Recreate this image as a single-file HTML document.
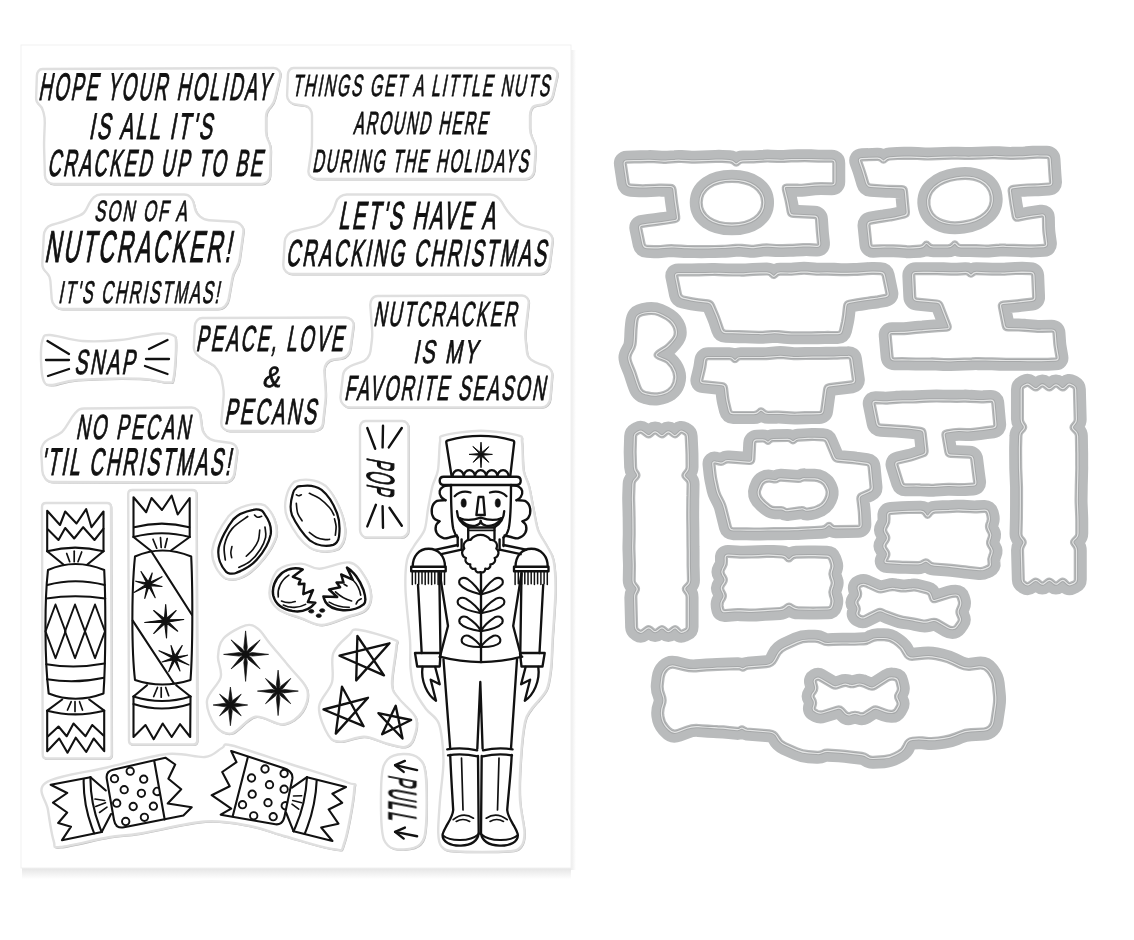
<!DOCTYPE html>
<html><head><meta charset="utf-8"><title>Nutcracker stamp &amp; die set</title>
<style>
html,body{margin:0;padding:0;background:#fff;}
body{width:1134px;height:940px;overflow:hidden;font-family:"Liberation Sans",sans-serif;}
svg{display:block}
text{font-family:"Liberation Sans",sans-serif;fill:#111;}
</style></head><body>
<svg width="1134" height="940" viewBox="0 0 1134 940">
<rect width="1134" height="940" fill="#fff"/>
<defs><linearGradient id="shb" x1="0" y1="0" x2="0" y2="1"><stop offset="0" stop-color="#e4e4e4"/><stop offset="1" stop-color="#fff"/></linearGradient><linearGradient id="shr" x1="0" y1="0" x2="1" y2="0"><stop offset="0" stop-color="#ececec"/><stop offset="1" stop-color="#fff"/></linearGradient><filter id="bl" x="-2%" y="-2%" width="104%" height="104%"><feGaussianBlur stdDeviation="0.7"/></filter></defs>
<rect x="22" y="868" width="549" height="11" fill="url(#shb)"/>
<rect x="571" y="50" width="5" height="820" fill="url(#shr)"/>
<rect x="21" y="45" width="550" height="823" fill="#fff" stroke="#f1f1f1" stroke-width="1"/>
<g filter="url(#bl)"><g fill="none" stroke="#b9b9b9" stroke-width="1.4" transform="translate(0.7,0.8)">
<path d="M38.5 71Q40 69 42.5 69L273.8 68Q277 68 279 70.5L279 70.5Q281 73 280.3 76.1L275.1 98.1Q274 103 270.7 106.7L269.3 108.3Q266 112 266 117L266 131Q266 136 268.2 140.5L268.8 141.5Q271 146 270.8 151L270.1 175.5Q270 179 267.5 181.5L267.5 181.5Q265 184 261.5 184L53.5 184Q50 184 47.5 181.5L47.5 181.5Q45 179 44.9 175.5L44.1 148Q44 143 44.2 138L44.8 123Q45 118 43.7 113.2L43 110.8Q42 107 39 104.5L39 104.5Q36 102 36.1 98.1L36.9 75.5Q37 73 38.5 71Z"/>
<path d="M289.5 70Q291 68 293.5 68L550.8 68Q554 68 556 70.5L556 70.5Q558 73 557.3 76.1L552.9 95.2Q552 99 549 101.5L549 101.5Q546 104 542.1 104.6L536.3 105.5Q533 106 531.5 109L531.5 109Q530 112 530 115.4L530 128Q530 133 532.1 137.5L533.9 141.5Q536 146 535.6 151L534.3 170.5Q534 174 531.5 176.5L531.5 176.5Q529 179 525.5 179L316.5 179Q313 179 310.5 176.5L310.5 176.5Q308 174 308.5 170.5L311.3 150.9Q312 146 312 141L312 115.6Q312 112 310 109L310 109Q308 106 304.4 105.6L295.5 104.4Q292 104 289.5 101.5L289.5 101.5Q287 99 287.1 95.5L287.9 74.5Q288 72 289.5 70Z"/>
<path d="M94 197.2Q97 194.5 101.1 194.5L184.3 194.5Q188 194.5 190.5 197.2L190.5 197.2Q193 200 193.8 203.6L194.9 208.1Q196 213 199.8 216.3L200.2 216.7Q204 220 209 220.3L233.8 221.8Q238 222 241 225L241 225Q244 228 243.4 232.2L239.7 259Q239 264 236.4 268.3L235.6 269.7Q233 274 232.2 278.9L228.7 298.8Q228 303 225 306L225 306Q222 309 217.8 309L62.2 309Q58 309 55 306L55 306Q52 303 51.7 298.8L50.4 281Q50 276 46.5 272.5L45.5 271.5Q42 268 42.3 263L43.8 235.6Q44 232 46 229L46 229Q48 226 51.5 225L57.2 223.4Q62 222 66.7 220.3L79.3 215.7Q84 214 86.2 209.5L89.2 203.6Q91 200 94 197.2Z"/>
<path d="M340 196.8Q343 194.5 346.8 194.5L490.2 194.5Q494 194.5 497 196.8L497 196.8Q500 199 501.9 202.2L504.5 206.7Q507 211 510.4 214.7L516.6 221.3Q520 225 524.9 226.2L545.5 231.2Q549 232 551 235L551 235Q553 238 552.5 241.6L549.5 265.5Q549 269 546.5 271.5L546.5 271.5Q544 274 540.5 274L291.9 274Q288 274 285.5 271L285.5 271Q283 268 283.3 264.1L284.7 241.9Q285 238 287.5 235L287.5 235Q290 232 293.8 231.1L316.1 226.1Q321 225 324.4 221.3L329.6 215.7Q333 212 334.5 207.2L335.9 202.6Q337 199 340 196.8Z"/>
<path d="M197 320.5Q199 318 202.2 318L345.6 317.5Q349 317.5 351.5 319.8L351.5 319.8Q354 322 353.6 325.3L350.5 348.1Q350 352 347.5 355L347.5 355Q345 358 341.1 358.5L333.3 359.5Q329 360 326.5 363.5L326.5 363.5Q324 367 324.3 371.3L325.6 390Q326 395 325.5 400L322.9 423.6Q322.5 427 319.8 429L319.8 429Q317 431 313.6 431L229.5 431Q226 431 223.5 428.5L223.5 428.5Q221 426 221.3 422.5L223.6 397Q224 392 223.1 387.1L221.9 379.9Q221 375 218.1 370.9L216.9 369.1Q214 365 209.5 362.8L204.3 360.1Q200 358 196.8 354.5L196.8 354.5Q193.5 351 193.8 346.2L194.8 326.2Q195 323 197 320.5Z"/>
<path d="M372 299Q374 296 377.6 296L522 295.5Q525 295.5 527 297.8L527 297.8Q529 300 528.7 303L525.6 330Q525 335 525.6 340L527 352.4Q527.5 357 531.2 359.8L531.2 359.8Q535 362.5 539.4 363.9L545.9 366Q549 367 550.8 369.8L550.8 369.8Q552.5 372.5 552.2 375.7L550.3 398.3Q550 402 547.5 404.8L547.5 404.8Q545 407.5 541.3 407.5L350.4 407.5Q346 407.5 343 404.2L343 404.2Q340 401 340.5 396.6L343 375.1Q343.5 371 346.8 368.5L346.8 368.5Q350 366 353.9 364.7L361.3 362.2Q365 361 367.5 358L367.5 358Q370 355 370.5 351.1L371.9 340Q372.5 335 372.1 330L370.3 305.6Q370 302 372 299Z"/>
<path d="M75.8 412.4Q79 408.5 84 408.5L191.6 407.5Q195 407.5 197.5 409.8L197.5 409.8Q200 412 200.4 415.3L201.9 427Q202.5 432 205.9 435.6L206.6 436.4Q210 440 214.9 440.7L230.8 443Q234 443.5 235.8 446.2L235.8 446.2Q237.5 449 237.1 452.2L234.5 473.1Q234 477 231.2 479.8L231.2 479.8Q228.5 482.5 224.6 482.5L52.5 482Q48 482 45.2 478.5L45.2 478.5Q42.5 475 42.3 470.6L41.2 452Q41 448 43 444.5L43 444.5Q45 441 48.6 439.2L58 434.7Q62.5 432.5 65.1 428.2L69.4 421.3Q72 417 75.2 413.1Z"/>
<path d="M42.5 340C44 335.8 43.3 334.8 50 335C56.7 335.2 70.8 340.2 82.5 341C94.2 341.8 107.5 341.2 120 340C132.5 338.8 148.8 334.5 157.5 333.7C166.2 332.9 169.4 333.5 172.5 335C175.6 336.5 175.8 335.4 176 342.5C176.2 349.6 175.1 370.8 173.7 377.5C172.3 384.2 173.1 382.3 167.5 382.5C161.9 382.7 155 379.1 140 378.7C125 378.3 92.1 378.9 77.5 380C62.9 381.1 58.1 384.8 52.5 385C46.9 385.2 45.6 385.2 43.7 381C41.8 376.8 41.2 366.8 41 360C40.8 353.2 41 344.2 42.5 340Z"/>
<path d="M41.5 0C40 -10 28 -24 14 -26.5C0 -28.5 -14 -28 -24 -24C-34 -19 -40.5 -8 -41.5 0C-40.5 7 -36 13 -28 17.5C-16 24 6 28 20 25C32 21 40 9 41.5 0Z" transform="translate(244.7,541.7) rotate(-61) scale(1.0)"/>
<path d="M41.5 0C40 -10 28 -24 14 -26.5C0 -28.5 -14 -28 -24 -24C-34 -19 -40.5 -8 -41.5 0C-40.5 7 -36 13 -28 17.5C-16 24 6 28 20 25C32 21 40 9 41.5 0Z" transform="translate(316.2,515.4) rotate(236.7) scale(0.965)"/>
<path d="M361.5 423Q363 421 365.5 421L402.3 421Q405 421 406.8 423L406.8 423Q408.5 425 408.5 427.7L408.5 529.8Q408.5 533 406.2 535.2L406.2 535.2Q404 537.5 400.8 537.5L367 537.5Q364 537.5 362 535.2L362 535.2Q360 533 360 530L360 427.5Q360 425 361.5 423Z"/>
<path d="M403 754C408.2 753.8 415.2 755 419 758.5C422.8 762 424.5 763.9 425.7 775C426.9 786.1 426.9 813.5 426 825C425.1 836.5 424.2 839.9 420.5 844C416.8 848.1 409.4 849.2 404 849.5C398.6 849.8 391.7 849.1 388 845.5C384.3 841.9 382.9 839.2 381.8 828C380.7 816.8 380.7 789.4 381.6 778C382.6 766.6 383.9 763.5 387.5 759.5C391.1 755.5 397.8 754.2 403 754Z"/>
<path d="M42 507Q42 503 46 503L107 503Q111 503 111 507L111.7 754.5Q111.7 758.5 107.7 758.5L46.7 758.5Q42.7 758.5 42.7 754.5Z"/>
<path d="M128.2 494Q128.2 490 132.2 490L192.5 490Q196.5 490 196.5 494L197.2 740.5Q197.2 744.5 193.2 744.5L133 744.5Q129 744.5 129 740.5Z"/>
<path d="M45.5 783C55.3 775.9 86.8 772.3 107 767.5C127.2 762.7 150.7 755.8 167 754C183.3 752.2 195.8 758 205 757C214.2 756 217.5 749.9 222 748C226.5 746.1 220.7 742.8 232 745.5C243.3 748.2 270.8 757.8 290 764C309.2 770.2 336.7 778.2 347.4 782.5C358.1 786.8 354.7 780 354.2 790C353.7 800 347.8 832.6 344.4 842.5C341 852.4 343.7 850.2 334 849.2C324.3 848.2 300 840.4 286 836.5C272 832.6 263.5 828.5 250 826C236.5 823.5 223.3 820.2 205 821.5C186.7 822.8 156.1 830.9 140 833.5C123.9 836.1 121.8 835 108.5 837.2C95.2 839.5 69.6 846.4 60.5 847C51.4 847.6 55.8 847.2 53.7 841C51.6 834.8 49.4 819.7 48 810C46.6 800.3 35.7 790.1 45.5 783Z"/>
<path d="M245.6 625.4C239.8 627 228.1 633.3 223.5 638.5C218.9 643.7 218.5 650 218 656.5C217.5 663 222.5 669.8 220.7 677.2C218.9 684.6 207.9 692.6 207 700.7C206.1 708.8 211.1 720.2 215.2 725.6C219.3 731 225.1 734.8 231.8 733.3C238.5 731.8 246.8 718.2 255.3 716.7C263.8 715.2 275.1 725.1 283 724.3C290.9 723.5 298.4 717.6 302.4 711.8C306.4 706 309.3 697.1 307.2 689.7C305.1 682.3 296.3 675.4 290 667.6C283.7 659.8 274.5 649.2 269.2 642.7C263.9 636.2 261.9 631.7 258 628.8C254.1 625.9 251.3 623.8 245.6 625.4Z"/>
<path d="M358 629.7C365.4 630.5 387.4 636.7 393.8 639.6C400.2 642.5 396.6 639.6 396.3 647C396 654.4 391.6 675.4 392 684C392.4 692.6 394.8 692.7 398.8 698.4C402.8 704.1 413.5 711.2 416 718C418.5 724.8 415.4 734.2 413.6 739C411.8 743.8 409.5 746.2 405 747C400.5 747.8 393.2 745.2 386.4 743.5C379.6 741.8 371.8 737 364.2 736.7C356.6 736.4 346.7 741.8 340.7 741.6C334.7 741.4 332 741.2 328.4 735.4C324.8 729.6 318.4 715.9 319 707C319.6 698.1 329.6 691.3 332 682.3C334.4 673.3 330.4 661.1 333.3 653.2C336.2 645.3 345.3 638.6 349.4 634.7C353.5 630.8 350.6 628.9 358 629.7Z"/>
<path d="M269.4 593C269.4 586.5 272.7 574.9 278 570C283.3 565.1 294.1 563.8 301 563.6C307.9 563.4 311.3 569 319.4 568.8C327.4 568.6 341.8 561.4 349.3 562.5C356.8 563.6 360.6 570.2 364.2 575.7C367.8 581.2 370.8 589.5 371 595.2C371.2 601 369.3 606.6 365.3 610.2C361.3 613.8 354.3 614.5 347 617C339.7 619.5 329.4 624.8 321.7 625C314 625.2 308.3 620.9 301 618.2C293.7 615.5 283.3 613.2 278 609C272.7 604.8 269.4 599.5 269.4 593Z"/>
<path d="M444 435.3C450.1 433.6 469.9 430.8 481 430.8C492.1 430.8 511.9 433.6 518 435.3C524.1 437 521.2 436.8 522 442C522.8 447.2 522.5 463.4 523.5 470C524.5 476.6 527.5 480.1 529 486C530.5 491.9 532.1 502.4 533.5 509C534.9 515.6 536 524.5 538 530C540 535.5 544.7 541.5 547 546C549.3 550.5 552.2 553.4 553.5 560C554.8 566.6 555.6 578 555.5 590C555.4 602 553.2 628.3 552.5 640C551.8 651.7 551.9 660.5 551 668C550.1 675.5 549.4 683.9 546.5 690C543.6 696.1 534.7 704.2 531.5 709C528.3 713.8 526.6 714.4 525 722C523.4 729.6 521.5 748.3 520.8 760C520 771.7 519.4 789.1 520 800C520.6 810.9 524.4 825.5 524.5 832.5C524.6 839.5 523.5 843.7 521 846.5C518.5 849.3 517.9 850.6 508 851.3C498.1 852 465 852 455 851.3C445 850.6 444 849.3 441.5 846.5C439 843.7 438.4 839.5 438.2 832.5C438 825.5 439.2 810.9 440 800C440.8 789.1 443.6 771.4 443.5 760C443.4 748.6 441.6 731.6 439 724C436.4 716.4 429.7 714.1 426 709C422.3 703.9 416.8 696.1 414.5 690C412.2 683.9 411.2 675.5 410.5 668C409.8 660.5 410.8 651.7 410 640C409.2 628.3 405.9 602 405.5 590C405.1 578 405.7 566.6 407 560C408.3 553.4 411.4 550.5 414 546C416.6 541.5 422.4 535.5 424.5 530C426.6 524.5 426.8 515.6 428 509C429.2 502.4 431 491.9 432.5 486C434 480.1 436.9 476.6 438 470C439.1 463.4 439.1 447.2 440 442C440.9 436.8 437.9 437 444 435.3Z"/>
</g><g fill="#fff" stroke="#dfdfdf" stroke-width="2.4">
<path d="M38.5 71Q40 69 42.5 69L273.8 68Q277 68 279 70.5L279 70.5Q281 73 280.3 76.1L275.1 98.1Q274 103 270.7 106.7L269.3 108.3Q266 112 266 117L266 131Q266 136 268.2 140.5L268.8 141.5Q271 146 270.8 151L270.1 175.5Q270 179 267.5 181.5L267.5 181.5Q265 184 261.5 184L53.5 184Q50 184 47.5 181.5L47.5 181.5Q45 179 44.9 175.5L44.1 148Q44 143 44.2 138L44.8 123Q45 118 43.7 113.2L43 110.8Q42 107 39 104.5L39 104.5Q36 102 36.1 98.1L36.9 75.5Q37 73 38.5 71Z"/>
<path d="M289.5 70Q291 68 293.5 68L550.8 68Q554 68 556 70.5L556 70.5Q558 73 557.3 76.1L552.9 95.2Q552 99 549 101.5L549 101.5Q546 104 542.1 104.6L536.3 105.5Q533 106 531.5 109L531.5 109Q530 112 530 115.4L530 128Q530 133 532.1 137.5L533.9 141.5Q536 146 535.6 151L534.3 170.5Q534 174 531.5 176.5L531.5 176.5Q529 179 525.5 179L316.5 179Q313 179 310.5 176.5L310.5 176.5Q308 174 308.5 170.5L311.3 150.9Q312 146 312 141L312 115.6Q312 112 310 109L310 109Q308 106 304.4 105.6L295.5 104.4Q292 104 289.5 101.5L289.5 101.5Q287 99 287.1 95.5L287.9 74.5Q288 72 289.5 70Z"/>
<path d="M94 197.2Q97 194.5 101.1 194.5L184.3 194.5Q188 194.5 190.5 197.2L190.5 197.2Q193 200 193.8 203.6L194.9 208.1Q196 213 199.8 216.3L200.2 216.7Q204 220 209 220.3L233.8 221.8Q238 222 241 225L241 225Q244 228 243.4 232.2L239.7 259Q239 264 236.4 268.3L235.6 269.7Q233 274 232.2 278.9L228.7 298.8Q228 303 225 306L225 306Q222 309 217.8 309L62.2 309Q58 309 55 306L55 306Q52 303 51.7 298.8L50.4 281Q50 276 46.5 272.5L45.5 271.5Q42 268 42.3 263L43.8 235.6Q44 232 46 229L46 229Q48 226 51.5 225L57.2 223.4Q62 222 66.7 220.3L79.3 215.7Q84 214 86.2 209.5L89.2 203.6Q91 200 94 197.2Z"/>
<path d="M340 196.8Q343 194.5 346.8 194.5L490.2 194.5Q494 194.5 497 196.8L497 196.8Q500 199 501.9 202.2L504.5 206.7Q507 211 510.4 214.7L516.6 221.3Q520 225 524.9 226.2L545.5 231.2Q549 232 551 235L551 235Q553 238 552.5 241.6L549.5 265.5Q549 269 546.5 271.5L546.5 271.5Q544 274 540.5 274L291.9 274Q288 274 285.5 271L285.5 271Q283 268 283.3 264.1L284.7 241.9Q285 238 287.5 235L287.5 235Q290 232 293.8 231.1L316.1 226.1Q321 225 324.4 221.3L329.6 215.7Q333 212 334.5 207.2L335.9 202.6Q337 199 340 196.8Z"/>
<path d="M197 320.5Q199 318 202.2 318L345.6 317.5Q349 317.5 351.5 319.8L351.5 319.8Q354 322 353.6 325.3L350.5 348.1Q350 352 347.5 355L347.5 355Q345 358 341.1 358.5L333.3 359.5Q329 360 326.5 363.5L326.5 363.5Q324 367 324.3 371.3L325.6 390Q326 395 325.5 400L322.9 423.6Q322.5 427 319.8 429L319.8 429Q317 431 313.6 431L229.5 431Q226 431 223.5 428.5L223.5 428.5Q221 426 221.3 422.5L223.6 397Q224 392 223.1 387.1L221.9 379.9Q221 375 218.1 370.9L216.9 369.1Q214 365 209.5 362.8L204.3 360.1Q200 358 196.8 354.5L196.8 354.5Q193.5 351 193.8 346.2L194.8 326.2Q195 323 197 320.5Z"/>
<path d="M372 299Q374 296 377.6 296L522 295.5Q525 295.5 527 297.8L527 297.8Q529 300 528.7 303L525.6 330Q525 335 525.6 340L527 352.4Q527.5 357 531.2 359.8L531.2 359.8Q535 362.5 539.4 363.9L545.9 366Q549 367 550.8 369.8L550.8 369.8Q552.5 372.5 552.2 375.7L550.3 398.3Q550 402 547.5 404.8L547.5 404.8Q545 407.5 541.3 407.5L350.4 407.5Q346 407.5 343 404.2L343 404.2Q340 401 340.5 396.6L343 375.1Q343.5 371 346.8 368.5L346.8 368.5Q350 366 353.9 364.7L361.3 362.2Q365 361 367.5 358L367.5 358Q370 355 370.5 351.1L371.9 340Q372.5 335 372.1 330L370.3 305.6Q370 302 372 299Z"/>
<path d="M75.8 412.4Q79 408.5 84 408.5L191.6 407.5Q195 407.5 197.5 409.8L197.5 409.8Q200 412 200.4 415.3L201.9 427Q202.5 432 205.9 435.6L206.6 436.4Q210 440 214.9 440.7L230.8 443Q234 443.5 235.8 446.2L235.8 446.2Q237.5 449 237.1 452.2L234.5 473.1Q234 477 231.2 479.8L231.2 479.8Q228.5 482.5 224.6 482.5L52.5 482Q48 482 45.2 478.5L45.2 478.5Q42.5 475 42.3 470.6L41.2 452Q41 448 43 444.5L43 444.5Q45 441 48.6 439.2L58 434.7Q62.5 432.5 65.1 428.2L69.4 421.3Q72 417 75.2 413.1Z"/>
<path d="M42.5 340C44 335.8 43.3 334.8 50 335C56.7 335.2 70.8 340.2 82.5 341C94.2 341.8 107.5 341.2 120 340C132.5 338.8 148.8 334.5 157.5 333.7C166.2 332.9 169.4 333.5 172.5 335C175.6 336.5 175.8 335.4 176 342.5C176.2 349.6 175.1 370.8 173.7 377.5C172.3 384.2 173.1 382.3 167.5 382.5C161.9 382.7 155 379.1 140 378.7C125 378.3 92.1 378.9 77.5 380C62.9 381.1 58.1 384.8 52.5 385C46.9 385.2 45.6 385.2 43.7 381C41.8 376.8 41.2 366.8 41 360C40.8 353.2 41 344.2 42.5 340Z"/>
<path d="M41.5 0C40 -10 28 -24 14 -26.5C0 -28.5 -14 -28 -24 -24C-34 -19 -40.5 -8 -41.5 0C-40.5 7 -36 13 -28 17.5C-16 24 6 28 20 25C32 21 40 9 41.5 0Z" transform="translate(244.7,541.7) rotate(-61) scale(1.0)"/>
<path d="M41.5 0C40 -10 28 -24 14 -26.5C0 -28.5 -14 -28 -24 -24C-34 -19 -40.5 -8 -41.5 0C-40.5 7 -36 13 -28 17.5C-16 24 6 28 20 25C32 21 40 9 41.5 0Z" transform="translate(316.2,515.4) rotate(236.7) scale(0.965)"/>
<path d="M361.5 423Q363 421 365.5 421L402.3 421Q405 421 406.8 423L406.8 423Q408.5 425 408.5 427.7L408.5 529.8Q408.5 533 406.2 535.2L406.2 535.2Q404 537.5 400.8 537.5L367 537.5Q364 537.5 362 535.2L362 535.2Q360 533 360 530L360 427.5Q360 425 361.5 423Z"/>
<path d="M403 754C408.2 753.8 415.2 755 419 758.5C422.8 762 424.5 763.9 425.7 775C426.9 786.1 426.9 813.5 426 825C425.1 836.5 424.2 839.9 420.5 844C416.8 848.1 409.4 849.2 404 849.5C398.6 849.8 391.7 849.1 388 845.5C384.3 841.9 382.9 839.2 381.8 828C380.7 816.8 380.7 789.4 381.6 778C382.6 766.6 383.9 763.5 387.5 759.5C391.1 755.5 397.8 754.2 403 754Z"/>
<path d="M42 507Q42 503 46 503L107 503Q111 503 111 507L111.7 754.5Q111.7 758.5 107.7 758.5L46.7 758.5Q42.7 758.5 42.7 754.5Z"/>
<path d="M128.2 494Q128.2 490 132.2 490L192.5 490Q196.5 490 196.5 494L197.2 740.5Q197.2 744.5 193.2 744.5L133 744.5Q129 744.5 129 740.5Z"/>
<path d="M45.5 783C55.3 775.9 86.8 772.3 107 767.5C127.2 762.7 150.7 755.8 167 754C183.3 752.2 195.8 758 205 757C214.2 756 217.5 749.9 222 748C226.5 746.1 220.7 742.8 232 745.5C243.3 748.2 270.8 757.8 290 764C309.2 770.2 336.7 778.2 347.4 782.5C358.1 786.8 354.7 780 354.2 790C353.7 800 347.8 832.6 344.4 842.5C341 852.4 343.7 850.2 334 849.2C324.3 848.2 300 840.4 286 836.5C272 832.6 263.5 828.5 250 826C236.5 823.5 223.3 820.2 205 821.5C186.7 822.8 156.1 830.9 140 833.5C123.9 836.1 121.8 835 108.5 837.2C95.2 839.5 69.6 846.4 60.5 847C51.4 847.6 55.8 847.2 53.7 841C51.6 834.8 49.4 819.7 48 810C46.6 800.3 35.7 790.1 45.5 783Z"/>
<path d="M245.6 625.4C239.8 627 228.1 633.3 223.5 638.5C218.9 643.7 218.5 650 218 656.5C217.5 663 222.5 669.8 220.7 677.2C218.9 684.6 207.9 692.6 207 700.7C206.1 708.8 211.1 720.2 215.2 725.6C219.3 731 225.1 734.8 231.8 733.3C238.5 731.8 246.8 718.2 255.3 716.7C263.8 715.2 275.1 725.1 283 724.3C290.9 723.5 298.4 717.6 302.4 711.8C306.4 706 309.3 697.1 307.2 689.7C305.1 682.3 296.3 675.4 290 667.6C283.7 659.8 274.5 649.2 269.2 642.7C263.9 636.2 261.9 631.7 258 628.8C254.1 625.9 251.3 623.8 245.6 625.4Z"/>
<path d="M358 629.7C365.4 630.5 387.4 636.7 393.8 639.6C400.2 642.5 396.6 639.6 396.3 647C396 654.4 391.6 675.4 392 684C392.4 692.6 394.8 692.7 398.8 698.4C402.8 704.1 413.5 711.2 416 718C418.5 724.8 415.4 734.2 413.6 739C411.8 743.8 409.5 746.2 405 747C400.5 747.8 393.2 745.2 386.4 743.5C379.6 741.8 371.8 737 364.2 736.7C356.6 736.4 346.7 741.8 340.7 741.6C334.7 741.4 332 741.2 328.4 735.4C324.8 729.6 318.4 715.9 319 707C319.6 698.1 329.6 691.3 332 682.3C334.4 673.3 330.4 661.1 333.3 653.2C336.2 645.3 345.3 638.6 349.4 634.7C353.5 630.8 350.6 628.9 358 629.7Z"/>
<path d="M269.4 593C269.4 586.5 272.7 574.9 278 570C283.3 565.1 294.1 563.8 301 563.6C307.9 563.4 311.3 569 319.4 568.8C327.4 568.6 341.8 561.4 349.3 562.5C356.8 563.6 360.6 570.2 364.2 575.7C367.8 581.2 370.8 589.5 371 595.2C371.2 601 369.3 606.6 365.3 610.2C361.3 613.8 354.3 614.5 347 617C339.7 619.5 329.4 624.8 321.7 625C314 625.2 308.3 620.9 301 618.2C293.7 615.5 283.3 613.2 278 609C272.7 604.8 269.4 599.5 269.4 593Z"/>
<path d="M444 435.3C450.1 433.6 469.9 430.8 481 430.8C492.1 430.8 511.9 433.6 518 435.3C524.1 437 521.2 436.8 522 442C522.8 447.2 522.5 463.4 523.5 470C524.5 476.6 527.5 480.1 529 486C530.5 491.9 532.1 502.4 533.5 509C534.9 515.6 536 524.5 538 530C540 535.5 544.7 541.5 547 546C549.3 550.5 552.2 553.4 553.5 560C554.8 566.6 555.6 578 555.5 590C555.4 602 553.2 628.3 552.5 640C551.8 651.7 551.9 660.5 551 668C550.1 675.5 549.4 683.9 546.5 690C543.6 696.1 534.7 704.2 531.5 709C528.3 713.8 526.6 714.4 525 722C523.4 729.6 521.5 748.3 520.8 760C520 771.7 519.4 789.1 520 800C520.6 810.9 524.4 825.5 524.5 832.5C524.6 839.5 523.5 843.7 521 846.5C518.5 849.3 517.9 850.6 508 851.3C498.1 852 465 852 455 851.3C445 850.6 444 849.3 441.5 846.5C439 843.7 438.4 839.5 438.2 832.5C438 825.5 439.2 810.9 440 800C440.8 789.1 443.6 771.4 443.5 760C443.4 748.6 441.6 731.6 439 724C436.4 716.4 429.7 714.1 426 709C422.3 703.9 416.8 696.1 414.5 690C412.2 683.9 411.2 675.5 410.5 668C409.8 660.5 410.8 651.7 410 640C409.2 628.3 405.9 602 405.5 590C405.1 578 405.7 566.6 407 560C408.3 553.4 411.4 550.5 414 546C416.6 541.5 422.4 535.5 424.5 530C426.6 524.5 426.8 515.6 428 509C429.2 502.4 431 491.9 432.5 486C434 480.1 436.9 476.6 438 470C439.1 463.4 439.1 447.2 440 442C440.9 436.8 437.9 437 444 435.3Z"/>
</g></g>
<g fill="none" stroke="#111" stroke-linecap="round" stroke-linejoin="round">
<path d="M47.5 341L69 354" stroke-width="2.3"/>
<path d="M46 360L69 360" stroke-width="2.3"/>
<path d="M48 376L69 369" stroke-width="2.3"/>
<path d="M149 349L167.5 340" stroke-width="2.3"/>
<path d="M146 359L169 359" stroke-width="2.3"/>
<path d="M145 366L167.5 374" stroke-width="2.3"/>
<path d="M47.2 551.2L47.2 510.7L60 525L65.2 511.5L76.5 523.5L86.2 509.2L91.5 527.2L103.5 511.5L103.5 551.2" stroke-width="2.1"/>
<path d="M48 529.5L58.5 540L65.2 528L74.2 538.5L83.2 527.2L94.5 540L103.5 528.7" stroke-width="2.1"/>
<path d="M47.2 551.2Q75 544 103.5 551.2" stroke-width="2.1"/>
<path d="M47.2 551.2L63.7 564.7" stroke-width="2.1"/>
<path d="M103.5 551.2L87 564.7" stroke-width="2.1"/>
<path d="M66.7 553.5L69.7 561.7" stroke-width="1.7"/>
<path d="M74.2 551.2L74.2 561.7" stroke-width="1.7"/>
<path d="M81.7 552L78 561.7" stroke-width="1.7"/>
<path d="M48 570Q75 558 104.2 570C105.8 600 105.8 660 103.5 693.5Q75 704 48.7 693.5C44.5 660 44.5 600 48 570Z" stroke-width="2.1"/>
<path d="M47.3 585Q75 577.5 104.8 585" stroke-width="2.1"/>
<path d="M46.3 598.5Q75 594 105.2 598.5" stroke-width="2.1"/>
<path d="M55.5 604.5L65.5 631.3L55.5 658.2L45.5 631.3Z" stroke-width="1.9"/>
<path d="M75 604.5L85 631.3L75 658.2L65 631.3Z" stroke-width="1.9"/>
<path d="M95 604.5L105 631.3L95 658.2L85 631.3Z" stroke-width="1.9"/>
<path d="M46.3 664.2Q75 669 104.6 663.5" stroke-width="2.1"/>
<path d="M47 679.2Q75 684 104 677.7" stroke-width="2.1"/>
<path d="M62.2 699.5L47.2 710.7" stroke-width="2.1"/>
<path d="M89.2 699.5L104.2 710.7" stroke-width="2.1"/>
<path d="M71.2 701.7L67.5 710" stroke-width="1.7"/>
<path d="M75 701.7L75 711.5" stroke-width="1.7"/>
<path d="M79.5 701.7L82.5 710" stroke-width="1.7"/>
<path d="M47.2 710.7Q75 718 104.2 710.7" stroke-width="2.1"/>
<path d="M47.2 710.7L47.2 751.2L59.2 738.5L67.5 752.7L75.7 737.7L86.2 752L93.7 738.5L104.2 751.2L104.2 710.7" stroke-width="2.1"/>
<path d="M48 736.2L58.5 726.5L66.7 736.2L73.5 723.5L85.5 736.2L92.2 725L103.5 735.5" stroke-width="2.1"/>
<path d="M133.5 537L133.5 497.2L146.2 512.2L151.5 498L162 510L171.7 495.7L177.7 514.5L189.7 498L189.7 537" stroke-width="2.1"/>
<path d="M134 527.2Q162 520 189.3 527.2" stroke-width="2.1"/>
<path d="M133.5 537Q162 529.5 189.7 537" stroke-width="2.1"/>
<path d="M133.5 537L151.5 551.2" stroke-width="2.1"/>
<path d="M189.7 537L171 550.5" stroke-width="2.1"/>
<path d="M153 539.2L156.7 548.2" stroke-width="1.7"/>
<path d="M160.5 537.7L161.2 547.5" stroke-width="1.7"/>
<path d="M167.2 538.5L165 547.5" stroke-width="1.7"/>
<path d="M135 556.5Q162 544.5 191.2 556.5C192.8 590 192.8 650 190.5 680Q162 689 135 680C131.5 650 131.5 590 135 556.5Z" stroke-width="2.1"/>
<path d="M152.2 552.7L192 615" stroke-width="2.1"/>
<path d="M132.7 620.7L174 683.5" stroke-width="2.1"/>
<path d="M135.7 581.2L146.5 582.7L141 571.5L148.2 581.7L152.2 573L150.1 582.3L162 576.7L151 583.8L162 586.5L150.5 585.7L155.2 597.7L148.8 586.7L144.7 598.5L147 586.2L134 592.5L146 584.6Z" stroke-width="1.15" fill="#111"/>
<path d="M153.7 610.5L164.5 618.4L165.7 604.5L166.8 618.3L176.2 610.5L168.3 619.8L183.7 619.5L168.5 621.9L177.7 631.2L167 623.6L166.5 638L164.7 623.7L153.7 633.5L163.1 622.2L144.7 622.5L163 620.1Z" stroke-width="1.15" fill="#111"/>
<path d="M159 650.7L173.1 656.3L171 645.5L175 655.7L182.2 645.5L176.7 656.7L187.5 655.2L177.2 658.5L189 665L176.4 660L180 671L174.7 660.7L168.7 671.7L172.8 659.9L162 662L172.2 658Z" stroke-width="1.15" fill="#111"/>
<path d="M147 685.2L133.5 696.5" stroke-width="2.1"/>
<path d="M176.2 685.2L190.5 696.5" stroke-width="2.1"/>
<path d="M157.5 687.5L153.7 696.5" stroke-width="1.7"/>
<path d="M161.2 687.5L161.2 697.2" stroke-width="1.7"/>
<path d="M165.7 687.5L168.7 695.7" stroke-width="1.7"/>
<path d="M133.5 696.5Q162 705.5 190.5 696.5" stroke-width="2.1"/>
<path d="M133.5 704Q162 713 190 704" stroke-width="2.1"/>
<path d="M133.5 696.5L133.5 737L145.5 725L153.7 739.2L162.7 723.5L171.7 737L180 724.2L190.2 737L190.5 696.5" stroke-width="2.1"/>
<path d="M90.5 777.2L50.7 784.7L67.2 793L53 802.7L67.2 812.5L58.2 823L71 826.7L62 840.2L101.7 832" stroke-width="2.1"/>
<path d="M83.7 779.5Q83 806 94.2 833.3" stroke-width="2.1"/>
<path d="M90.5 777.2Q90 804 101.7 832" stroke-width="2.1"/>
<path d="M90.5 777.2L105.8 790.5" stroke-width="2.1"/>
<path d="M101.7 832L111 814" stroke-width="2.1"/>
<path d="M95 799L104.7 800.5" stroke-width="1.6"/>
<path d="M95.7 806.5L105.5 802.7" stroke-width="1.6"/>
<path d="M99.5 812.5L107 807.2" stroke-width="1.6"/>
<path d="M165.4 757.7L113 769.8Q105.6 771.5 106.8 779L114 820Q115.5 829 124 827.3L183.4 815.5L191.7 807.2L167.7 803.5L181.2 789.2L168.4 778.7L175.2 764.5Z" stroke-width="2.1"/>
<path d="M154.2 760.7L164.7 819.5" stroke-width="2.1"/>
<path d="M126.5 771.2a3.7 3.7 0 1 0 7.4 0a3.7 3.7 0 1 0 -7.4 0" stroke-width="1.9"/>
<path d="M110.8 778.7a3.7 3.7 0 1 0 7.4 0a3.7 3.7 0 1 0 -7.4 0" stroke-width="1.9"/>
<path d="M140 779.2a3.7 3.7 0 1 0 7.4 0a3.7 3.7 0 1 0 -7.4 0" stroke-width="1.9"/>
<path d="M120.5 789.7a3.7 3.7 0 1 0 7.4 0a3.7 3.7 0 1 0 -7.4 0" stroke-width="1.9"/>
<path d="M137.7 793.3a3.7 3.7 0 1 0 7.4 0a3.7 3.7 0 1 0 -7.4 0" stroke-width="1.9"/>
<path d="M113 803.2a3.7 3.7 0 1 0 7.4 0a3.7 3.7 0 1 0 -7.4 0" stroke-width="1.9"/>
<path d="M129.5 806.5a3.7 3.7 0 1 0 7.4 0a3.7 3.7 0 1 0 -7.4 0" stroke-width="1.9"/>
<path d="M149.7 806.2a3.7 3.7 0 1 0 7.4 0a3.7 3.7 0 1 0 -7.4 0" stroke-width="1.9"/>
<path d="M122 821.5a3.7 3.7 0 1 0 7.4 0a3.7 3.7 0 1 0 -7.4 0" stroke-width="1.9"/>
<path d="M140.7 817.3a3.7 3.7 0 1 0 7.4 0a3.7 3.7 0 1 0 -7.4 0" stroke-width="1.9"/>
<path d="M159.1 788.3A3.7 3.7 0 1 0 160.1 793.8" stroke-width="1.9"/>
<path d="M231.2 751L284 768.2Q293.5 771.5 292.3 779L284.5 816.5Q282.5 826 274 824L220.7 814.7L231.2 808.7L211.7 795.2L229.7 786.2L222.2 772L236.5 762.2Z" stroke-width="2.1"/>
<path d="M247.7 757.7L232.7 816.2" stroke-width="2.1"/>
<path d="M261.3 769a3.7 3.7 0 1 0 7.4 0a3.7 3.7 0 1 0 -7.4 0" stroke-width="1.9"/>
<path d="M280.4 773.5a3.7 3.7 0 1 0 7.4 0a3.7 3.7 0 1 0 -7.4 0" stroke-width="1.9"/>
<path d="M247.8 778a3.7 3.7 0 1 0 7.4 0a3.7 3.7 0 1 0 -7.4 0" stroke-width="1.9"/>
<path d="M265.8 784.7a3.7 3.7 0 1 0 7.4 0a3.7 3.7 0 1 0 -7.4 0" stroke-width="1.9"/>
<path d="M280.4 789.2a3.7 3.7 0 1 0 7.4 0a3.7 3.7 0 1 0 -7.4 0" stroke-width="1.9"/>
<path d="M248.5 794.2a3.7 3.7 0 1 0 7.4 0a3.7 3.7 0 1 0 -7.4 0" stroke-width="1.9"/>
<path d="M264.3 802.7a3.7 3.7 0 1 0 7.4 0a3.7 3.7 0 1 0 -7.4 0" stroke-width="1.9"/>
<path d="M238.8 804.7a3.7 3.7 0 1 0 7.4 0a3.7 3.7 0 1 0 -7.4 0" stroke-width="1.9"/>
<path d="M250 815.8a3.7 3.7 0 1 0 7.4 0a3.7 3.7 0 1 0 -7.4 0" stroke-width="1.9"/>
<path d="M269.5 816.7a3.7 3.7 0 1 0 7.4 0a3.7 3.7 0 1 0 -7.4 0" stroke-width="1.9"/>
<path d="M287.2 802.6A3.7 3.7 0 1 0 285.7 809.4" stroke-width="1.9"/>
<path d="M292 787.7L307 777.2" stroke-width="2.1"/>
<path d="M286 812.5L293.5 831.2" stroke-width="2.1"/>
<path d="M293.5 796L301.7 795.7" stroke-width="1.6"/>
<path d="M292.7 800.5L301.7 802.7" stroke-width="1.6"/>
<path d="M292 804.2L298.7 809.2" stroke-width="1.6"/>
<path d="M307 777.2L346 787L332.4 793.7L342.2 802.7L328.7 809.5L338.4 823.7L321.2 827.5L332.4 841L293.5 831.2" stroke-width="2.1"/>
<path d="M307 777.2Q305.5 806 293.5 831.2" stroke-width="2.1"/>
<path d="M316.7 780.2Q315.5 808 304.7 833.8" stroke-width="2.1"/>
<path d="M35.5 0C35 -4 34 -6 32 -8C27 -14 22 -19 14 -20.8C4 -22.5 -10 -22 -18 -19.8C-27 -16.5 -33 -9 -35.2 -2C-35.6 0 -35.5 1 -35 2.5C-34 5 -33 6.5 -31 8C-25 13 -18 17.5 -10 19.3C0 21.5 12 21.5 19 19.2C26 16.5 31 10 33.5 4.5C34.5 2.5 35.5 1.5 35.5 0Z" stroke-width="2.3" transform="translate(244.7,541.7) rotate(-61) scale(1.0)"/>
<path d="M23.5 -9.6C20.5 -10.9 11.4 -16.2 5.4 -17.3C-0.6 -18.4 -7.6 -17.6 -12.7 -16.1C-17.8 -14.6 -23.3 -9.4 -25.4 -8.1" stroke-width="1.7" transform="translate(244.7,541.7) rotate(-61) scale(1.0)"/>
<path d="M-10.4 -8.8C-11.4 -8.5 -14.5 -7.8 -16.2 -6.9C-17.8 -6 -19.6 -4.2 -20.3 -3.6" stroke-width="1.6" transform="translate(244.7,541.7) rotate(-61) scale(1.0)"/>
<path d="M22.7 10.6C21.2 11.5 17.6 15.1 13.9 16.2C10.2 17.3 5.6 17.7 0.8 17.4C-4 17.1 -10.3 15.9 -14.7 14.2C-19.1 12.5 -23.6 8.4 -25.4 7.3" stroke-width="1.7" transform="translate(244.7,541.7) rotate(-61) scale(1.0)"/>
<path d="M17.5 7.5C15.8 8.1 11 10.7 7.6 11.3C4.2 11.9 0.5 11.5 -2.8 11C-6.1 10.5 -10.5 8.8 -12 8.4" stroke-width="1.6" transform="translate(244.7,541.7) rotate(-61) scale(1.0)"/>
<path d="M28.1 -4.4C28 -3.8 27.2 -1.8 27.6 -0.6C28 0.6 30 2 30.5 2.5" stroke-width="1.6" transform="translate(244.7,541.7) rotate(-61) scale(1.0)"/>
<path d="M35.5 0C35 -4 34 -6 32 -8C27 -14 22 -19 14 -20.8C4 -22.5 -10 -22 -18 -19.8C-27 -16.5 -33 -9 -35.2 -2C-35.6 0 -35.5 1 -35 2.5C-34 5 -33 6.5 -31 8C-25 13 -18 17.5 -10 19.3C0 21.5 12 21.5 19 19.2C26 16.5 31 10 33.5 4.5C34.5 2.5 35.5 1.5 35.5 0Z" stroke-width="2.3" transform="translate(316.2,515.4) rotate(236.7) scale(0.965)"/>
<path d="M23 6.6C21.3 7.6 16.9 10.9 12.9 12.5C8.9 14.1 2.8 15.5 -1 16C-4.8 16.5 -8.3 15.7 -9.8 15.6" stroke-width="1.7" transform="translate(316.2,515.4) rotate(236.7) scale(0.965)"/>
<path d="M-13.4 13.9C-14.7 13.4 -18.6 12.3 -21 10.9C-23.4 9.5 -26.9 6.2 -28.1 5.3" stroke-width="1.7" transform="translate(316.2,515.4) rotate(236.7) scale(0.965)"/>
<path d="M21.7 -10.4C20.1 -11.2 15.2 -14.1 12.1 -14.9C9 -15.7 4.8 -15.2 3.3 -15.3" stroke-width="1.7" transform="translate(316.2,515.4) rotate(236.7) scale(0.965)"/>
<path d="M-10.8 -15.6C-12.2 -15 -16.8 -13.8 -19.3 -12.2C-21.9 -10.6 -24.6 -7.6 -26.1 -5.9C-27.6 -4.2 -28 -2.6 -28.4 -2" stroke-width="1.7" transform="translate(316.2,515.4) rotate(236.7) scale(0.965)"/>
<path d="M29.2 -5.5C28.8 -5.3 27.5 -4.9 27 -4.2C26.5 -3.5 26.4 -1.6 26.3 -1.1" stroke-width="1.6" transform="translate(316.2,515.4) rotate(236.7) scale(0.965)"/>
<path d="M302.7 569.4C296 567.5 288 568.5 282 573C275 579 271.5 588 273.4 596C275.5 604 283 610 295.2 611.3C304 612 311 608 315.3 602.7L307.9 602.1L313 590.1L303.3 594.1L304.4 583.7L298.7 584.3L300.4 579.7L292.9 576.8Z" stroke-width="2.5"/>
<path d="M288.9 575.1C281 580 277 589 278.3 597" stroke-width="1.6"/>
<path d="M281.4 601C286 603 291 603 295.2 601.6" stroke-width="1.6"/>
<path d="M283.2 605C290 608.5 299 608 305.6 604.4" stroke-width="1.6"/>
<path d="M308.7 611.3a2.6 1.8 0 1 0 5.2 0a2.6 1.8 0 1 0 -5.2 0" stroke-width="0.8" fill="#111"/>
<path d="M319.6 610.5a2.6 1.8 0 1 0 5.2 0a2.6 1.8 0 1 0 -5.2 0" stroke-width="0.8" fill="#111"/>
<path d="M316.2 615.7a2.6 1.8 0 1 0 5.2 0a2.6 1.8 0 1 0 -5.2 0" stroke-width="0.8" fill="#111"/>
<path d="M347 567.6C353 571 360 580 363.5 590C366 598 365.5 603 363.6 604.4C358 609 350 610.5 343 610.2C334 609.5 328 606 325.5 602C324 599 323.6 598 323.4 596.4L337.2 597L329.1 589.5L340.1 587.2L336.6 582.6L343.5 582.6L341.2 574.5L352.7 579.7Z" stroke-width="2.5"/>
<path d="M352.7 579.7C357 584 360 590 360.7 595.2" stroke-width="1.6"/>
<path d="M335.5 591.8C340 596 346 599.5 351.6 601" stroke-width="1.6"/>
<path d="M329.1 602.1C335 605.5 343 607.5 349.3 607.3" stroke-width="1.6"/>
<path d="M356.1 603.9C357 601 359 599.5 361.3 598.7" stroke-width="1.6"/>
<path d="M344.1 584.3L347 586" stroke-width="1.6"/>
<path d="M244.1 654.4L252.5 656.1L268.6 654.4L252.5 652.6ZM244.5 653.3L248.8 659.9L260.1 668.9L251.1 657.6ZM245.6 652.9L243.8 662.5L245.6 681.4L247.3 662.5ZM246.7 653.3L240.1 657.6L231.1 668.9L242.4 659.9ZM247.1 654.4L239 652.6L223.6 654.4L239 656.1ZM246.7 655.5L242.4 648.9L231.1 639.9L240.1 651.2ZM245.6 655.9L247.3 647.4L245.6 630.9L243.8 647.4ZM244.5 655.5L251.1 651.2L260.1 639.9L248.8 648.9ZM242.1 654.4a3.5 3.5 0 1 0 7 0a3.5 3.5 0 1 0 -7 0Z" stroke-width="0.7" fill="#111"/>
<path d="M276.6 691.1L284.2 692.9L298.3 691.1L284.2 689.4ZM277 690L280.8 696L290.7 703.7L283 693.8ZM278.1 689.6L276.4 698.5L278.1 715.6L279.9 698.5ZM279.2 690L273.2 693.8L265.5 703.7L275.4 696ZM279.6 691.1L271.9 689.4L257.4 691.1L271.9 692.9ZM279.2 692.2L275.4 686.2L265.5 678.5L273.2 688.4ZM278.1 692.6L279.9 684.8L278.1 670.1L276.4 684.8ZM277 692.2L283 688.4L290.7 678.5L280.8 686.2ZM275.1 691.1a3 3 0 1 0 6.1 0a3 3 0 1 0 -6.1 0Z" stroke-width="0.7" fill="#111"/>
<path d="M228.9 705L235.6 706.8L247.7 705L235.6 703.2ZM229.3 703.9L232.5 709.4L241.2 715.8L234.8 707.1ZM230.4 703.5L228.7 711.2L230.4 725.7L232.2 711.2ZM231.5 703.9L226 707.1L219.6 715.8L228.3 709.4ZM231.9 705L225.2 703.2L213.1 705L225.2 706.8ZM231.5 706.1L228.3 700.6L219.6 694.2L226 702.9ZM230.4 706.5L232.2 699.6L230.4 687L228.7 699.6ZM229.3 706.1L234.8 702.9L241.2 694.2L232.5 700.6ZM227.8 705a2.6 2.6 0 1 0 5.2 0a2.6 2.6 0 1 0 -5.2 0Z" stroke-width="0.7" fill="#111"/>
<path d="M357.4 636L384 675.4L339.5 655.7L389.5 643.3L356.2 680.4Z" stroke-width="2.35"/>
<path d="M342 686.7L363.6 726.2L323.5 709.5L368 697.8L335.8 733.6Z" stroke-width="2.35"/>
<path d="M395.7 705.8L402.5 738.5L378.4 713.2L411.1 720L382.1 734.2Z" stroke-width="2.35"/>
<path d="M367.3 428L375.2 448.8" stroke-width="2.4"/>
<path d="M383 425.8L382.6 447.4" stroke-width="2.4"/>
<path d="M401.8 428L388.8 447.4" stroke-width="2.4"/>
<path d="M375.9 504.8L367.3 526.4" stroke-width="2.4"/>
<path d="M382.6 506.3L383 527.8" stroke-width="2.4"/>
<path d="M389.5 507.7L401.8 525.7" stroke-width="2.4"/>
<path d="M417.1 770.1L395.1 765.2" stroke-width="2.4"/>
<path d="M404.9 760.9L395.1 765.2L403.7 771.9" stroke-width="2.4"/>
<path d="M417.1 836.2L395.1 831.9" stroke-width="2.4"/>
<path d="M404.9 827.6L395.1 831.9L403.7 838.6" stroke-width="2.4"/>
<path d="M451.7 476.7L446.3 442.5Q446 440.8 448 440.3Q481 431.5 512.5 440.3Q514.4 440.8 514.2 442.5L510.2 476.7" stroke-width="2.35"/>
<path d="M473.2 446.7L480.2 452.4L481 442.2L481.8 452.4L488.8 446.7L483 453.6L492.4 454.4L483 455.2L488.8 462.3L481.8 456.4L481 467.7L480.2 456.4L473.2 462.3L479 455.2L469 454.4L479 453.6Z" stroke-width="1.0" fill="#111"/>
<path d="M452.5 476.7a5.62 6.6 0 0 1 11.24 0a5.62 6.6 0 0 1 11.24 0a5.62 6.6 0 0 1 11.24 0a5.62 6.6 0 0 1 11.24 0a5.62 6.6 0 0 1 11.24 0" stroke-width="2.35"/>
<path d="M443.7 476.7H516.7Q520.7 476.7 520.7 480.8Q520.7 485 516.7 485H443.7Q439.7 485 439.7 480.8Q439.7 476.7 443.7 476.7Z" stroke-width="2.35"/>
<path d="M451 485C451 505 451.5 520 453.2 528.5C454.5 533 456 536 457.7 537.5" stroke-width="2.35"/>
<path d="M511 485C511 505 510.5 520 508.7 528.5C507.5 533 506 536 503.5 537.5" stroke-width="2.35"/>
<path d="M449.5 485.5C448.5 485.7 445.1 485.6 443.5 486.5C441.9 487.4 440.1 489.2 439.7 491C439.3 492.8 440.2 495.5 441.2 497C442.2 498.5 444.8 499.7 445.5 500.2" stroke-width="2.35"/>
<path d="M445.5 500.2C443.9 500.4 438.3 500 436 501.5C433.7 503 432.2 506.2 431.8 509C431.4 511.8 432.4 516 433.7 518C435 520 438.5 520.8 439.5 521.3" stroke-width="2.35"/>
<path d="M439.5 521.3C438.9 522 436.5 523.5 436 525.5C435.5 527.5 435.4 530.9 436.7 533C437.9 535.1 441.1 537.5 443.5 538.2C445.9 538.9 448.8 537.5 451 537C453.2 536.5 456 535.8 457 535.5" stroke-width="2.35"/>
<path d="M512.5 485.5C513.5 485.7 516.9 485.6 518.5 486.5C520.1 487.4 521.8 489.2 522.2 491C522.6 492.8 521.7 495.5 520.7 497C519.8 498.5 517.2 499.7 516.5 500.2" stroke-width="2.35"/>
<path d="M516.5 500.2C518.1 500.4 523.7 500 526 501.5C528.3 503 529.8 506.2 530.2 509C530.6 511.8 529.5 516 528.2 518C526.9 520 523.5 520.8 522.5 521.3" stroke-width="2.35"/>
<path d="M522.5 521.3C523.1 522 525.5 523.5 526 525.5C526.5 527.5 526.5 530.9 525.2 533C524 535.1 520.9 537.5 518.5 538.2C516.1 538.9 513.3 537.5 511 537C508.7 536.5 505.6 535.8 504.5 535.5" stroke-width="2.35"/>
<path d="M454.7 496.2Q461 489.8 470.5 492.5" stroke-width="2.3"/>
<path d="M490 492.5Q500 489.8 506.5 496.2" stroke-width="2.3"/>
<path d="M461.1 503a2.6 4.3 0 1 0 5.2 0a2.6 4.3 0 1 0 -5.2 0" stroke-width="0.5" fill="#111"/>
<path d="M495.2 503a2.6 4.3 0 1 0 5.2 0a2.6 4.3 0 1 0 -5.2 0" stroke-width="0.5" fill="#111"/>
<path d="M478.6 497L483.3 497L484.8 515L476.4 515Z" stroke-width="2.35"/>
<path d="M457 511.2C457.3 518 460.5 523.5 468.2 527.3" stroke-width="2.35"/>
<path d="M504.2 511.2C503.9 518 500.7 523.5 494.5 527.3" stroke-width="2.35"/>
<path d="M460 518.3C466 520.8 474 520 480.7 517.6C487.5 520 495 520.8 501.2 518.3" stroke-width="2.35"/>
<path d="M460 518.3C462.5 523.5 469 526.8 475.5 525.6C479 524.8 480.7 522.8 480.7 520.6C480.7 522.8 482.5 524.8 486 525.6C492.5 526.8 498.7 523.5 501.2 518.3" stroke-width="2.35"/>
<path d="M468.2 527.5L494.5 527.5" stroke-width="2.35"/>
<path d="M468.2 530.4L494.5 530.4" stroke-width="1.8"/>
<path d="M468.2 527L468.2 539" stroke-width="2.35"/>
<path d="M494.5 527L494.5 539" stroke-width="2.35"/>
<path d="M457.7 537.5L457.7 546" stroke-width="2.35"/>
<path d="M461.6 539.5L461.6 550" stroke-width="2.35"/>
<path d="M503.5 537.5L503.5 546" stroke-width="2.35"/>
<path d="M499.6 539.5L499.6 550" stroke-width="2.35"/>
<path d="M457.7 545L436 549.7" stroke-width="2.35"/>
<path d="M461.6 549.7L441.2 554.2" stroke-width="2.35"/>
<path d="M503.5 545L526 549.7" stroke-width="2.35"/>
<path d="M499.6 549.7L520.7 554.2" stroke-width="2.35"/>
<path d="M470.5 540A12.4 12.4 0 0 1 490.5 540A5.8 5.8 0 0 1 496.3 548.5A5.4 5.4 0 0 1 494.6 558A4.3 4.3 0 0 1 490.3 564.3A3.7 3.7 0 0 1 485.2 568.6A3.3 3.3 0 0 1 480.3 572A3.3 3.3 0 0 1 475.4 568.6A3.7 3.7 0 0 1 470.3 564.3A4.3 4.3 0 0 1 466 558A5.4 5.4 0 0 1 464.3 548.5A5.9 5.9 0 0 1 470.5 540Z" stroke-width="2.2" fill="#fff"/>
<path d="M412.7 566.7C412.7 556 419 548.7 428.6 548.7C438.3 548.7 445 556 445 566.7" stroke-width="2.35"/>
<path d="M411.2 566.7H445.7V571.2H411.2Z" stroke-width="2.35"/>
<path d="M515.5 566.7C515.5 556 522 548.7 531.4 548.7C541 548.7 547.7 556 547.7 566.7" stroke-width="2.35"/>
<path d="M514 566.7H548.5V571.2H514Z" stroke-width="2.35"/>
<path d="M412.3 571.2L412.3 584.5" stroke-width="1.5"/>
<path d="M515.1 571.2L515.1 584.5" stroke-width="1.5"/>
<path d="M415.5 571.2L415.5 583.7" stroke-width="1.5"/>
<path d="M518.3 571.2L518.3 583.7" stroke-width="1.5"/>
<path d="M418.7 571.2L418.7 584.5" stroke-width="1.5"/>
<path d="M521.5 571.2L521.5 584.5" stroke-width="1.5"/>
<path d="M422 571.2L422 583.7" stroke-width="1.5"/>
<path d="M524.8 571.2L524.8 583.7" stroke-width="1.5"/>
<path d="M425.2 571.2L425.2 584.5" stroke-width="1.5"/>
<path d="M528 571.2L528 584.5" stroke-width="1.5"/>
<path d="M428.4 571.2L428.4 583.7" stroke-width="1.5"/>
<path d="M531.2 571.2L531.2 583.7" stroke-width="1.5"/>
<path d="M431.6 571.2L431.6 584.5" stroke-width="1.5"/>
<path d="M534.4 571.2L534.4 584.5" stroke-width="1.5"/>
<path d="M434.8 571.2L434.8 583.7" stroke-width="1.5"/>
<path d="M537.6 571.2L537.6 583.7" stroke-width="1.5"/>
<path d="M438.1 571.2L438.1 584.5" stroke-width="1.5"/>
<path d="M540.9 571.2L540.9 584.5" stroke-width="1.5"/>
<path d="M441.3 571.2L441.3 583.7" stroke-width="1.5"/>
<path d="M544.1 571.2L544.1 583.7" stroke-width="1.5"/>
<path d="M444.5 571.2L444.5 584.5" stroke-width="1.5"/>
<path d="M547.3 571.2L547.3 584.5" stroke-width="1.5"/>
<path d="M418 585L421.7 653" stroke-width="2.35"/>
<path d="M439.3 573L440.5 653" stroke-width="2.35"/>
<path d="M521.5 573L520.3 653" stroke-width="2.35"/>
<path d="M543.2 585L539.5 653" stroke-width="2.35"/>
<path d="M415 653L440.5 653L439.7 666.5L417.2 666.5Z" stroke-width="2.35"/>
<path d="M520 653L544.7 653L542.5 666.5L521.5 666.5Z" stroke-width="2.35"/>
<path d="M439.7 573.5L448 626L439.9 657" stroke-width="2.35"/>
<path d="M521.5 573.5L513.2 626L521.3 657" stroke-width="2.35"/>
<path d="M439.7 656.7Q481 667.5 522.2 656.7" stroke-width="2.35"/>
<path d="M481 573L481 662" stroke-width="2.35"/>
<path d="M481 594.5C473.8 592.7 463 589 459.6 584.2C457.9 579.4 462.3 576.1 467.6 579C473.4 583.2 479.4 590.3 481 594.5" stroke-width="2.1"/>
<path d="M481 594.5C488.2 592.7 499 589 502.4 584.2C504.1 579.4 499.7 576.1 494.4 579C488.6 583.2 482.6 590.3 481 594.5" stroke-width="2.1"/>
<path d="M481 613.2C473.6 611.9 462.2 608.9 458.3 604.4C456.1 599.7 460.3 596.1 465.9 598.6C472.2 602.4 479 609.1 481 613.2" stroke-width="2.1"/>
<path d="M481 613.2C488.4 611.9 499.8 608.9 503.7 604.4C505.9 599.7 501.7 596.1 496.1 598.6C489.8 602.4 483 609.1 481 613.2" stroke-width="2.1"/>
<path d="M481 631.2C474 630.2 463.4 627.6 459.8 623.2C457.9 618.6 462 615 467.2 617.3C473 620.9 479.3 627.2 481 631.2" stroke-width="2.1"/>
<path d="M481 631.2C488 630.2 498.6 627.6 502.2 623.2C504.1 618.6 500 615 494.8 617.3C489 620.9 482.7 627.2 481 631.2" stroke-width="2.1"/>
<path d="M481 647C474.9 647.1 465.5 646.3 462.2 642.6C460.4 638.5 463.8 634.4 468.5 635.8C473.7 638.3 479.3 643.4 481 647" stroke-width="2.1"/>
<path d="M481 647C487.1 647.1 496.5 646.3 499.8 642.6C501.6 638.5 498.2 634.4 493.5 635.8C488.3 638.3 482.7 643.4 481 647" stroke-width="2.1"/>
<path d="M443.5 659.5L450.2 748.5" stroke-width="2.35"/>
<path d="M517 659.5L511 748.5" stroke-width="2.35"/>
<path d="M477.3 748.7L480.3 682L482.6 748.7" stroke-width="2.35"/>
<path d="M447.2 749.3Q462 747 477.2 750.3" stroke-width="2.35"/>
<path d="M448 755.3Q462 753 477.6 756.3" stroke-width="2.35"/>
<path d="M483 750.3Q498 747 512.6 749.3" stroke-width="2.35"/>
<path d="M482.8 756.3Q498 753 512 755.3" stroke-width="2.35"/>
<path d="M450.2 755C451 775 452.3 795 453.2 810C452.5 819 445 826 442.7 834C441.5 842 451 846 461 845.6C470 845.3 477.3 842 478.7 833.5" stroke-width="2.35"/>
<path d="M443 835.5C450 841.5 470 842 478.5 834.2" stroke-width="2.0"/>
<path d="M478 756L478.7 833.5" stroke-width="2.35"/>
<path d="M481.7 756L481 833.5" stroke-width="2.35"/>
<path d="M511.7 755C510.8 775 508.3 795 507.2 810C508 819 515.5 826 517.7 834C519 842 509.5 846 499.5 845.6C490.5 845.3 482.5 842 481 833.5" stroke-width="2.35"/>
<path d="M517.4 835.5C510.5 841.5 490 842 481.2 834.2" stroke-width="2.0"/>
<path d="M461.5 758L463 810" stroke-width="1.7"/>
<path d="M499 758L497.5 810" stroke-width="1.7"/>
<path d="M453.2 819.7Q463 811.3 473.5 818.2" stroke-width="1.7"/>
<path d="M456.2 821.4Q463 817.6 469.7 821.4" stroke-width="1.7"/>
<path d="M486.2 818.2Q496.5 811.3 507.2 819.7" stroke-width="1.7"/>
<path d="M490 821.4Q496.7 817.6 503.5 821.4" stroke-width="1.7"/>
<path d="M422.5 667C420.5 681 427.5 695.5 436 700.7L430.7 679.7L439.7 684.2L435.2 667" stroke-width="2.35"/>
<path d="M538.3 667C540.3 681 533.3 695.5 524.8 700.7L530.1 679.7L521.1 684.2L525.6 667" stroke-width="2.35"/>
</g>
<g transform="translate(38,100) skewX(-10.6)"><text font-size="38.4" letter-spacing="4.6" textLength="233.9" lengthAdjust="spacingAndGlyphs" stroke="#111" stroke-width="1">HOPE YOUR HOLIDAY</text></g>
<g transform="translate(88.5,139) skewX(-10.6)"><text font-size="37" letter-spacing="4.4" textLength="125.5" lengthAdjust="spacingAndGlyphs" stroke="#111" stroke-width="1">IS ALL IT'S</text></g>
<g transform="translate(47,176) skewX(-10.6)"><text font-size="37.7" letter-spacing="4.5" textLength="216.9" lengthAdjust="spacingAndGlyphs" stroke="#111" stroke-width="1">CRACKED UP TO BE</text></g>
<g transform="translate(292,96) skewX(-10.6)"><text font-size="30.7" letter-spacing="3.7" textLength="258.9" lengthAdjust="spacingAndGlyphs" stroke="#111" stroke-width="0.8">THINGS GET A LITTLE NUTS</text></g>
<g transform="translate(353,134) skewX(-10.6)"><text font-size="32.1" letter-spacing="3.9" textLength="135.7" lengthAdjust="spacingAndGlyphs" stroke="#111" stroke-width="0.9">AROUND HERE</text></g>
<g transform="translate(312,172) skewX(-10.6)"><text font-size="32.1" letter-spacing="3.9" textLength="217.7" lengthAdjust="spacingAndGlyphs" stroke="#111" stroke-width="0.9">DURING THE HOLIDAYS</text></g>
<g transform="translate(94,221) skewX(-10.6)"><text font-size="29.3" letter-spacing="3.5" textLength="94.6" lengthAdjust="spacingAndGlyphs" stroke="#111" stroke-width="0.8">SON OF A</text></g>
<g transform="translate(44,262) skewX(-10.6)"><text font-size="44.7" letter-spacing="5.4" textLength="189" lengthAdjust="spacingAndGlyphs" stroke="#111" stroke-width="1.2">NUTCRACKER!</text></g>
<g transform="translate(58,302.5) skewX(-10.6)"><text font-size="31.4" letter-spacing="3.8" textLength="162.8" lengthAdjust="spacingAndGlyphs" stroke="#111" stroke-width="0.8">IT'S CHRISTMAS!</text></g>
<g transform="translate(338,229) skewX(-10.6)"><text font-size="39.1" letter-spacing="4.7" textLength="159.3" lengthAdjust="spacingAndGlyphs" stroke="#111" stroke-width="1.1">LET'S HAVE A</text></g>
<g transform="translate(285.5,266) skewX(-10.6)"><text font-size="37.7" letter-spacing="4.5" textLength="262.4" lengthAdjust="spacingAndGlyphs" stroke="#111" stroke-width="1">CRACKING CHRISTMAS</text></g>
<g transform="translate(74,374) skewX(-10.6)"><text font-size="34.9" letter-spacing="4.2" textLength="62.8" lengthAdjust="spacingAndGlyphs" stroke="#111" stroke-width="0.9">SNAP</text></g>
<g transform="translate(195.5,351) skewX(-10.6)"><text font-size="36.3" letter-spacing="4.4" textLength="149.6" lengthAdjust="spacingAndGlyphs" stroke="#111" stroke-width="1">PEACE, LOVE</text></g>
<g transform="translate(262,387) skewX(-10.6)"><text font-size="29.3" letter-spacing="3.5" textLength="21.1" lengthAdjust="spacingAndGlyphs" stroke="#111" stroke-width="0.8">&amp;</text></g>
<g transform="translate(224,424) skewX(-10.6)"><text font-size="36.3" letter-spacing="4.4" textLength="94.1" lengthAdjust="spacingAndGlyphs" stroke="#111" stroke-width="1">PECANS</text></g>
<g transform="translate(373,326) skewX(-10.6)"><text font-size="34.9" letter-spacing="4.2" textLength="145.3" lengthAdjust="spacingAndGlyphs" stroke="#111" stroke-width="0.9">NUTCRACKER</text></g>
<g transform="translate(413,362.5) skewX(-10.6)"><text font-size="32.8" letter-spacing="3.9" textLength="66.6" lengthAdjust="spacingAndGlyphs" stroke="#111" stroke-width="0.9">IS MY</text></g>
<g transform="translate(344,400) skewX(-10.6)"><text font-size="34.9" letter-spacing="4.2" textLength="202.8" lengthAdjust="spacingAndGlyphs" stroke="#111" stroke-width="0.9">FAVORITE SEASON</text></g>
<g transform="translate(75.5,439) skewX(-10.6)"><text font-size="34.9" letter-spacing="4.2" textLength="116.3" lengthAdjust="spacingAndGlyphs" stroke="#111" stroke-width="0.9">NO PECAN</text></g>
<g transform="translate(40.5,475) skewX(-10.6)"><text font-size="38.4" letter-spacing="4.6" textLength="191.9" lengthAdjust="spacingAndGlyphs" stroke="#111" stroke-width="1">'TIL CHRISTMAS!</text></g>
<g transform="translate(366.5,457.3) rotate(90) skewX(-10.6)"><text font-size="39.1" letter-spacing="4.7" textLength="38.6" lengthAdjust="spacingAndGlyphs" stroke="#111" stroke-width="1.1">POP</text></g>
<g transform="translate(389,774.7) rotate(90) skewX(-10.6)"><text font-size="39.1" letter-spacing="4.7" textLength="46.9" lengthAdjust="spacingAndGlyphs" stroke="#111" stroke-width="1.1">PULL</text></g>
<g stroke-linejoin="round" stroke-linecap="round">
<g><defs><path id="d1" d="M624.2 164.2Q623.7 161 626.9 160.9L634.1 160.7Q637.3 160.7 640.5 160.6L647.7 160.4Q650.9 160.3 654.1 160.5L661.3 161Q664.5 161.2 667.7 160.9L674.9 160.4Q678.1 160.1 681.3 160.3L688.5 160.7Q691.7 160.9 694.9 160.9L702.1 160.7Q705.3 160.6 708.5 160.5L715.7 160.2Q718.9 160 722.1 160.2L729.7 160.6Q732.5 160.8 734.4 162.9L734.4 162.9Q736.2 165 738.1 162.9L738.1 162.9Q740 160.8 742.8 160.8L750.4 160.7Q753.6 160.7 756.8 160.5L763.9 160Q767.1 159.7 770.3 159.9L777.5 160.2Q780.7 160.3 783.9 160.2L791.1 159.7Q794.3 159.6 797.5 159.6L804.7 159.5Q807.9 159.5 811 159.6L818.2 159.9Q821.4 160 824.6 160L831.8 160Q835 160 835 163.2L835 181.8Q835 185 831.8 185L821.1 184.8Q817.9 184.8 814.7 185.1L804 186.2Q800.8 186.5 797.6 186.4L786.9 186.3Q783.7 186.2 784.5 189.3L786.5 197.4Q787.3 200.5 787.9 203.6L789.4 211.9Q790 215 793.2 215.1L814.3 216.1Q817.5 216.2 817.7 219.4L818.3 228.2Q818.5 231.4 818.8 234.6L819.7 243.3Q820 246.5 816.8 246.3L809.6 245.9Q806.4 245.8 803.2 245.9L796.1 246.3Q792.9 246.5 789.7 246.6L782.5 246.8Q779.3 246.9 776.1 246.7L768.9 246.2Q765.7 246 762.6 246.4L755.4 247.3Q752.2 247.7 749 247.4L741.8 246.6Q738.6 246.3 735.4 246.6L728.3 247.2Q725.1 247.4 721.9 247.5L714.7 247.7Q711.5 247.8 708.3 247.8L701.1 247.9Q698 247.9 694.8 247.8L687.6 247.7Q684.4 247.6 681.2 247.4L674 247Q670.8 246.8 667.6 247.1L660.5 247.7Q657.3 248 654.1 247.9L646.9 247.6Q643.7 247.5 643 244.4L639.7 228.6Q639 225.5 642.2 225.1L648.8 224.2Q652 223.8 655.2 223.4L661.9 222.5Q665 222.1 668.2 221.6L674.8 220.5Q678 220 677.5 216.8L676 206.4Q675.5 203.3 675.1 200.1L673.9 189.7Q673.5 186.5 670.3 186.5L661.4 186.4Q658.2 186.3 655 186.5L646 186.9Q642.8 187.1 639.6 186.9L630.7 186.4Q627.5 186.2 627 183Z"/></defs><use href="#d1" fill="none" stroke="#b9bbbc" stroke-width="20.5"/><use href="#d1" fill="#fff" stroke="#b9bbbc" stroke-width="5.6"/><use href="#d1" fill="none" stroke="#a6a8a9" stroke-width="3.2"/><use href="#d1" fill="none" stroke="#e4e5e5" stroke-width="1.2"/></g>
<g><defs><path id="d2" d="M859.7 161.7Q858.7 158.7 861.9 158.6L877.3 158.1Q880 158 881.8 160L881.8 160Q883.5 162 885.2 160L885.2 160Q887 158 889.7 157.8L897.4 157.3Q900.6 157.1 903.8 157.1L911 157.1Q914.2 157.2 917.4 157.3L924.6 157.7Q927.8 157.9 931 157.7L938.1 157.4Q941.3 157.3 944.5 157.2L951.7 157Q954.9 156.9 958.1 157L965.3 157.2Q968.5 157.3 971.7 157.2L978.9 157Q982.1 156.9 985.3 156.8L992.5 156.5Q995.7 156.4 998.9 156.6L1006.1 157Q1009.3 157.2 1012.5 157.1L1019.6 156.9Q1022.8 156.9 1026 156.6L1033.2 156.1Q1036.4 155.9 1039.6 156L1046.8 156.1Q1050 156.2 1050.2 159.4L1050.7 167.4Q1050.9 170.6 1051.1 173.8L1051.7 181.8Q1052 185 1048.8 185.2L1041.2 185.7Q1038 186 1034.8 186L1027.2 186.2Q1024 186.3 1020.8 186.7L1013.2 187.6Q1010 188 1010.4 191.2L1011.7 200.6Q1012.1 203.8 1012.7 207L1014.4 216.4Q1015 219.5 1018.1 218.9L1026.5 217.2Q1029.7 216.6 1032.9 216.2L1041.3 215Q1044.5 214.5 1044.6 217.7L1044.8 227.3Q1044.9 230.5 1045.3 233.7L1046.6 243.2Q1047 246.4 1043.8 246.6L1035.4 247Q1032.2 247.2 1029 247.1L1020.5 246.8Q1017.3 246.7 1014.1 246.6L1005.7 246.3Q1002.5 246.1 999.3 246.4L990.9 247Q987.7 247.3 984.5 247.2L976 246.9Q972.8 246.8 969.6 246.8L960.8 246.8Q958 246.8 956.5 244.4L956.5 244.4Q955 242 953.2 244.2L953 244.5Q951 247 947.8 247L933.1 247Q930 247 928.2 244.5L928.2 244.5Q926.5 242 924.8 244.5L924.8 244.6Q923 247.2 919.9 247.4L912.9 247.9Q909.8 248.1 906.6 247.9L899.7 247.3Q896.5 247 893.3 247L886.4 247Q883.2 246.9 880.1 247.1L873.2 247.4Q870 247.5 869.7 244.3L867.8 225.7Q867.5 222.5 870.7 221.9L877.7 220.7Q880.9 220.1 884 219.7L891.1 218.6Q894.3 218.2 897.4 217.4L904.4 215.7Q907.5 215 907.2 211.8L905.3 191.2Q905 188 901.8 187.9L889.4 187.5Q886.2 187.4 883 187.2L870.7 186.4Q867.5 186.2 866.6 183.1L864.3 175.4Q863.4 172.3 862.4 169.3Z"/></defs><use href="#d2" fill="none" stroke="#b9bbbc" stroke-width="20.5"/><use href="#d2" fill="#fff" stroke="#b9bbbc" stroke-width="5.6"/><use href="#d2" fill="none" stroke="#a6a8a9" stroke-width="3.2"/><use href="#d2" fill="none" stroke="#e4e5e5" stroke-width="1.2"/></g>
<g><defs><path id="d3" d="M675.7 276.8Q675 273.7 678.2 273.7L685.4 273.7Q688.6 273.7 691.8 273.7L698.9 273.6Q702.1 273.6 705.3 273.5L712.5 273.3Q715.7 273.2 718.9 273.4L726.1 273.7Q729.3 273.8 732.5 273.8L739.7 273.8Q742.9 273.9 746.1 273.6L753.2 273.1Q756.4 272.9 759.6 272.9L767 272.8Q770 272.8 771.9 275.1L771.9 275.1Q773.7 277.5 775.6 275.2L775.6 275.1Q777.5 272.8 780.5 272.9L787.6 273Q790.8 273.1 794 272.8L800.9 272.2Q804 271.9 807.2 272.2L814.1 272.8Q817.3 273.1 820.5 273L827.4 272.9Q830.6 272.9 833.8 273.1L840.7 273.4Q843.9 273.5 847.1 273.4L854 273.2Q857.2 273.2 860.3 272.9L867.2 272.4Q870.4 272.1 873.6 272.2L880.5 272.4Q883.7 272.5 884.4 275.6L888 292.9Q888.7 296 885.5 296.6L877.7 298Q874.5 298.5 871.3 298.9L863.4 300Q860.2 300.4 857 301L849.1 302.4Q846 303 845.7 306.2L844.7 315.3Q844.3 318.5 843.7 321.6L841.7 330.6Q841 333.7 837.8 333.7L831 333.7Q827.8 333.6 824.6 333.7L817.9 333.9Q814.7 334 811.5 334L804.7 334Q801.5 334 798.3 334L791.5 334Q788.3 334 785.1 333.6L778.4 332.9Q775.2 332.6 772 332.8L765.2 333.3Q762 333.6 758.8 333.5L752 333.3Q748.8 333.2 745.6 333.1L738.9 332.9Q735.7 332.8 732.5 332.7L725.7 332.6Q722.5 332.5 721.5 329.5L718.4 320.3Q717.4 317.3 716.1 314.3L712.3 305.4Q711 302.5 707.8 302.1L698.6 301.1Q695.4 300.7 692.2 300.1L683.1 298.2Q680 297.5 679.3 294.4Z"/></defs><use href="#d3" fill="none" stroke="#b9bbbc" stroke-width="20.5"/><use href="#d3" fill="#fff" stroke="#b9bbbc" stroke-width="5.6"/><use href="#d3" fill="none" stroke="#a6a8a9" stroke-width="3.2"/><use href="#d3" fill="none" stroke="#e4e5e5" stroke-width="1.2"/></g>
<g><defs><path id="d4" d="M912.6 275.7Q912.5 272.5 915.7 272.5L923.2 272.4Q926.4 272.4 929.6 272.4L937.1 272.5Q940.3 272.5 943.4 272.6L950.9 272.9Q954.1 273 957.3 272.9L965.6 272.4Q968 272.3 969.5 274.2L969.5 274.1Q971 276 972.5 274.1L972.5 274.2Q974 272.3 976.4 272.4L985.7 272.8Q988.9 272.9 992.1 273L1000.6 273Q1003.8 273.1 1007 272.8L1015.6 272.3Q1018.8 272.1 1022 272.1L1030.5 272.4Q1033.7 272.5 1033.9 275.7L1034.8 296.8Q1035 300 1031.8 300.4L1020.7 301.6Q1017.5 302 1014.3 302.3L1003.2 303.4Q1000 303.7 1000.6 306.8L1004.4 325.6Q1005 328.7 1008.2 328.7L1018.5 328.8Q1021.7 328.9 1024.9 329.1L1035.1 330Q1038.3 330.3 1041.5 330.2L1051.8 330Q1055 330 1055.2 333.2L1055.8 341.9Q1056 345.1 1056.6 348.3L1058.1 356.9Q1058.7 360 1055.5 360.1L1047.9 360.5Q1044.7 360.6 1041.5 360.6L1034 360.6Q1030.8 360.6 1027.6 360.6L1020 360.5Q1016.8 360.5 1013.6 360.5L1006.1 360.5Q1002.9 360.5 999.7 360.4L992.1 360.1Q988.9 360 985.7 360L978.1 359.9Q975 359.8 971.8 360L964.2 360.3Q961 360.4 957.8 360.5L950.2 360.8Q947 360.9 943.8 360.7L936.3 360.3Q933.1 360.1 929.9 360.2L922.3 360.2Q919.1 360.2 915.9 360.2L908.4 360Q905.2 359.9 902 359.9L894.4 360Q891.2 360 890.9 356.8L889 335.7Q888.7 332.5 891.9 332.5L900.9 332.4Q904.1 332.4 907.3 332.1L916.2 331.2Q919.4 330.9 922.6 330.7L931.5 329.9Q934.7 329.7 937.9 329.5L946.8 328.9Q950 328.7 948.9 325.7L941.1 305.5Q940 302.5 936.8 302.2L916.9 300.3Q913.7 300 913.6 296.8Z"/></defs><use href="#d4" fill="none" stroke="#b9bbbc" stroke-width="20.5"/><use href="#d4" fill="#fff" stroke="#b9bbbc" stroke-width="5.6"/><use href="#d4" fill="none" stroke="#a6a8a9" stroke-width="3.2"/><use href="#d4" fill="none" stroke="#e4e5e5" stroke-width="1.2"/></g>
<g><defs><path id="d5" d="M704.6 360.7Q705 357.5 708.2 357.5L729.5 357.5Q732 357.5 733.5 359.5L733.5 359.5Q735 361.5 736.5 359.5L736.5 359.5Q738 357.5 740.5 357.5L749 357.5Q752.2 357.5 755.4 357.5L763.1 357.5Q766.3 357.5 769.5 357.2L777.3 356.5Q780.4 356.2 783.6 356.5L791.4 357.3Q794.6 357.6 797.8 357.5L805.6 357.3Q808.8 357.2 812 357.2L819.7 357.2Q822.9 357.2 826.1 357.1L833.9 357Q837.1 356.9 840.3 356.7L848 356.4Q851.2 356.2 851.7 359.4L854.5 379.3Q855 382.5 851.8 383L843.8 384.1Q840.6 384.5 837.4 384.9L829.4 385.8Q826.2 386.2 825.8 389.4L822.9 410.5Q822.5 413.7 819.3 413.7L811.3 413.8Q808.1 413.8 804.9 413.9L796.9 414.2Q793.7 414.3 790.6 414.1L782.6 413.5Q779.4 413.3 776.2 413.4L768 413.5Q765 413.5 763 411.2L763 411.2Q761 409 759 411.3L759 411.4Q757 413.7 753.9 413.7L733.2 413.7Q730 413.7 729.3 410.6L727.4 402.6Q726.7 399.5 726.3 396.3L725.4 388.2Q725 385 721.8 384.7L703.2 382.8Q700 382.5 700.8 379.4L702.9 370.6Q703.7 367.5 704.1 364.3Z"/></defs><use href="#d5" fill="none" stroke="#b9bbbc" stroke-width="20.5"/><use href="#d5" fill="#fff" stroke="#b9bbbc" stroke-width="5.6"/><use href="#d5" fill="none" stroke="#a6a8a9" stroke-width="3.2"/><use href="#d5" fill="none" stroke="#e4e5e5" stroke-width="1.2"/></g>
<g><defs><path id="d6" d="M712.8 464.4Q712.5 461.2 715.6 462L719.6 462.9Q722 463.5 724 462L724 462Q726 460.5 728.5 460.7L749.3 462.3Q752.5 462.5 752.7 459.3L753.5 443.2Q753.7 440 756.9 439.9L762.8 439.8Q765 439.8 766.5 441.4L766.5 441.4Q768 443 769.4 441.3L769.5 441.2Q771 439.5 773.3 439.5L787.8 439.3Q790 439.3 791.5 440.9L791.5 440.9Q793 442.5 794.5 440.9L794.5 440.9Q796 439.2 798.2 439L807.9 438.4Q811.1 438.2 814.3 438.3L823 438.6Q826.2 438.7 827.4 441.7L833.8 457Q835 460 838.2 460.2L849.4 461.1Q852.6 461.3 855.7 461.8L866.8 463.3Q870 463.7 870.3 466.9L872.2 486.8Q872.5 490 869.6 491.3L861.6 494.9Q858.7 496.2 859.1 499.4L860.2 508.6Q860.6 511.8 860.7 515L861.1 524.3Q861.2 527.5 858 527.6L836 527.9Q833 528 831 525.8L831 525.8Q829 523.5 827.1 525.8L827 525.9Q825 528.3 821.9 528.4L814.6 528.7Q811.4 528.8 808.2 529L801.1 529.4Q797.9 529.6 794.7 529.7L787.5 529.8Q784.3 529.9 781.1 529.9L773.9 529.9Q770.7 529.9 767.5 530L760.4 530.2Q757.2 530.2 754 530.2L746.8 530.1Q743.6 530 740.4 530L733.2 530Q730 530 729.2 526.9L724.5 508.1Q723.7 505 722.3 502.1L718.9 495.4Q717.5 492.5 716.8 489.4L714.8 480.1Q714.2 477 713.8 473.8Z"/></defs><use href="#d6" fill="none" stroke="#b9bbbc" stroke-width="20.5"/><use href="#d6" fill="#fff" stroke="#b9bbbc" stroke-width="5.6"/><use href="#d6" fill="none" stroke="#a6a8a9" stroke-width="3.2"/><use href="#d6" fill="none" stroke="#e4e5e5" stroke-width="1.2"/></g>
<g><defs><path id="d7" d="M725.2 558.2Q725 555 728.2 555.2L736.8 555.7Q740 555.9 743.2 555.9L751.8 555.8Q755 555.7 758.2 555.6L766.8 555.2Q770 555.1 773.2 555.3L781.9 555.8Q785 556 786.9 558.5L786.9 558.5Q788.7 561 790.7 558.6L790.9 558.4Q793 556 796.2 555.9L808.3 555.7Q811.5 555.7 814.7 555.7L826.8 556.1Q830 556.2 831.1 559.2L832.4 563Q833.5 566 832.4 569L831.6 571Q830.5 574 831.7 577L832.8 580Q834 583 832.8 586L831.7 589Q830.5 592 831.5 595L832.5 598Q833.5 601 832.6 604.1L832.1 605.9Q831.2 609 828 609L816.3 609.2Q813.1 609.3 809.9 609.2L798.2 609Q795 609 792.4 607.1L791.6 606.4Q789 604.5 786.5 606.5L785.5 607.5Q783 609.5 779.8 609.7L771 610.2Q767.8 610.4 764.6 610.6L755.7 611.2Q752.5 611.4 749.3 611.3L740.4 610.9Q737.2 610.7 734 611L725.2 611.7Q722 612 721.5 608.8L721 606.2Q720.5 603 722.2 600.3L723.3 598.7Q725 596 723.4 593.2L722.1 590.8Q720.5 588 722.3 585.4L724.2 582.6Q726 580 724.3 577.3L722.7 574.7Q721 572 722.6 569.2L723.9 566.8Q725.5 564 725.3 560.8Z"/></defs><use href="#d7" fill="none" stroke="#b9bbbc" stroke-width="20.5"/><use href="#d7" fill="#fff" stroke="#b9bbbc" stroke-width="5.6"/><use href="#d7" fill="none" stroke="#a6a8a9" stroke-width="3.2"/><use href="#d7" fill="none" stroke="#e4e5e5" stroke-width="1.2"/></g>
<g><defs><path id="d8" d="M873.1 404.3Q872.5 401.2 875.7 401.4L882.8 401.8Q886 402 889.2 401.7L896.2 401.1Q899.4 400.9 902.6 400.8L909.7 400.8Q912.9 400.8 916.1 400.6L923.2 400.1Q926.4 399.9 929.6 399.9L936.6 399.8Q939.8 399.8 943 399.9L950.1 400Q953.3 400.1 956.5 400.1L963.6 399.9Q966.8 399.8 970 400.1L977 400.5Q980.2 400.7 983.4 400.6L990.5 400.2Q993.7 400 994 403.2L995.9 424.3Q996.2 427.5 993 428L986.3 428.9Q983.1 429.4 980 429.7L973.2 430.5Q970 430.9 966.8 430.8L959.9 430.5Q956.7 430.4 953.6 430.9L946.9 432Q943.7 432.5 944.2 435.7L947 451.8Q947.5 455 950.7 455.2L969.3 456Q972.5 456.2 972.9 459.4L973.9 467.4Q974.3 470.6 974.7 473.8L975.8 481.8Q976.2 485 973 485.2L964.7 485.7Q961.5 485.9 958.3 485.8L949.9 485.5Q946.7 485.4 943.5 485.7L935.2 486.3Q932 486.6 928.8 486.4L920.4 486.1Q917.2 485.9 914 486L905.7 486.1Q902.5 486.2 901.5 483.1L896 465.6Q895 462.5 898.1 461.8L907.7 459.6Q910.8 458.9 913.9 457.9L923.2 454.7Q926.2 453.7 925.9 450.5L924 433.2Q923.7 430 920.5 429.6L911.5 428.5Q908.4 428.1 905.2 427.9L896.1 427.3Q892.9 427.1 889.7 426.9L880.7 426.4Q877.5 426.2 876.9 423.1Z"/></defs><use href="#d8" fill="none" stroke="#b9bbbc" stroke-width="20.5"/><use href="#d8" fill="#fff" stroke="#b9bbbc" stroke-width="5.6"/><use href="#d8" fill="none" stroke="#a6a8a9" stroke-width="3.2"/><use href="#d8" fill="none" stroke="#e4e5e5" stroke-width="1.2"/></g>
<g><defs><path id="d9" d="M887.7 515.7Q887.5 512.5 890.7 512.3L902.3 511.5Q905.5 511.3 908.7 511.3L920.3 511.1Q923.5 511 925.2 513.7L925.8 514.8Q927.5 517.5 929.3 514.9L930.2 513.6Q932 511 935.2 510.9L942.7 510.6Q945.9 510.5 949.1 510.4L956.5 510Q959.7 509.9 962.9 510.1L970.4 510.5Q973.6 510.7 976.8 510.6L984.3 510.2Q987.5 510 988.4 513.1L989.1 515.9Q990 519 988.9 522L988.1 524Q987 527 988.6 529.8L989.9 532.2Q991.5 535 990.2 537.9L989.3 540.1Q988 543 989.7 545.7L991.3 548.3Q993 551 991.7 553.9L990.8 556.1Q989.5 559 990.2 562.1L990.3 562.9Q991 566 988.1 567.4L985.4 568.6Q982.5 570 979.3 569.7L968.5 568.6Q965.3 568.3 962.2 567.9L951.4 566.6Q948.2 566.2 945 566L934.2 565.2Q931 565 928.7 562.7L928.3 562.3Q926 560 923.5 562L923.5 562Q921 564 917.8 563.9L905.7 563.6Q902.5 563.6 899.3 563.4L887.2 562.7Q884 562.5 885.5 559.7L887 556.8Q888.5 554 886.7 551.4L884.8 548.6Q883 546 884.8 543.4L886.7 540.6Q888.5 538 886.8 535.3L885.2 532.7Q883.5 530 885.1 527.2L886.4 524.8Q888 522 887.8 518.8Z"/></defs><use href="#d9" fill="none" stroke="#b9bbbc" stroke-width="20.5"/><use href="#d9" fill="#fff" stroke="#b9bbbc" stroke-width="5.6"/><use href="#d9" fill="none" stroke="#a6a8a9" stroke-width="3.2"/><use href="#d9" fill="none" stroke="#e4e5e5" stroke-width="1.2"/></g>
<g><defs><path id="d10" d="M634.4 436.5Q634.5 434 636.7 432.8L638.6 431.7Q640.8 430.5 642.8 432L646.8 435Q648.8 436.5 650.6 434.9L653.2 432.6Q655.1 431 657 432.6L660 434.9Q662 436.5 663.8 434.9L666.4 432.6Q668.3 431 670.2 432.6L673.2 434.9Q675.2 436.5 676.9 434.7L679.2 432.3Q681 430.5 683.2 431.7L685.1 432.8Q687.3 434 687.4 436.5L688 449.2Q688.1 451.7 688.2 454.2L688.3 467Q688.3 469.5 686.7 471.4L684.9 473.6Q683.3 475.5 685.1 477.3L687.5 479.7Q689.3 481.5 689.3 484L689.1 495.9Q689 498.4 689 500.9L688.9 512.7Q688.9 515.2 688.9 517.7L689.1 529.6Q689.1 532.1 689.1 534.6L689.2 546.5Q689.3 549 689.3 551.5L689.3 563.3Q689.3 565.8 689.4 568.3L689.7 580.2Q689.8 582.7 688 584.5L685.6 586.9Q683.8 588.7 685.3 590.7L686.8 592.7Q688.3 594.7 688.3 597.2L688.3 627Q688.3 629.5 686 630.6L683.2 631.9Q681 633 679.2 631.2L676.9 628.8Q675.2 627 673.2 628.6L670.2 630.9Q668.3 632.5 666.4 630.9L663.8 628.6Q662 627 660 628.6L657 630.9Q655.1 632.5 653.2 630.9L650.6 628.6Q648.8 627 646.8 628.5L642.8 631.5Q640.8 633 638.7 631.6L637.6 630.9Q635.5 629.5 635.4 627L634.6 597.2Q634.5 594.7 635.8 592.5L636.7 590.9Q638 588.7 636.4 586.8L634.6 584.6Q633 582.7 633 580.2L633.2 568.3Q633.3 565.8 633.2 563.3L632.8 551.5Q632.7 549 632.7 546.5L633 534.6Q633 532.1 633 529.6L632.9 517.7Q632.8 515.2 632.8 512.7L632.5 500.9Q632.4 498.4 632.5 495.9L632.9 484Q633 481.5 634.7 479.7L636.8 477.3Q638.5 475.5 637.1 473.4L635.9 471.6Q634.5 469.5 634.4 467L634 454.2Q633.9 451.8 634 449.3Z"/></defs><use href="#d10" fill="none" stroke="#b9bbbc" stroke-width="20.5"/><use href="#d10" fill="#fff" stroke="#b9bbbc" stroke-width="5.6"/><use href="#d10" fill="none" stroke="#a6a8a9" stroke-width="3.2"/><use href="#d10" fill="none" stroke="#e4e5e5" stroke-width="1.2"/></g>
<g><defs><path id="d11" d="M1021.2 389.5Q1021.2 387 1023.4 385.8L1025.5 384.7Q1027.7 383.5 1029.7 385L1033.8 388Q1035.9 389.5 1037.8 387.9L1040.5 385.6Q1042.4 384 1044.3 385.5L1047.5 388Q1049.4 389.5 1051.3 387.9L1054 385.6Q1056 384 1057.9 385.5L1061 388Q1063 389.5 1064.8 387.7L1067.2 385.3Q1069 383.5 1071.2 384.7L1073.3 385.8Q1075.5 387 1075.6 389.5L1076.4 419Q1076.5 421.5 1074.9 423.4L1073.1 425.6Q1071.5 427.5 1073.3 429.3L1075.7 431.7Q1077.5 433.5 1077.6 436L1077.8 448.1Q1077.8 450.6 1077.9 453.1L1077.9 465.2Q1078 467.7 1077.9 470.2L1077.6 482.3Q1077.5 484.8 1077.5 487.3L1077.3 499.3Q1077.3 501.8 1077.4 504.3L1077.9 516.4Q1078 518.9 1078 521.4L1078 533.5Q1078 536 1076.2 537.8L1073.8 540.2Q1072 542 1073.5 544L1075 546Q1076.5 548 1076.5 550.5L1076.5 579.5Q1076.5 582 1074.2 583.1L1071.3 584.4Q1069 585.5 1067.2 583.7L1064.8 581.3Q1063 579.5 1061 581L1057.9 583.5Q1056 585 1054 583.4L1051.3 581.1Q1049.4 579.5 1047.5 581L1044.3 583.5Q1042.4 585 1040.5 583.4L1037.8 581.1Q1035.9 579.5 1033.8 581L1029.7 584Q1027.7 585.5 1025.6 584.2L1024.3 583.3Q1022.2 582 1022.1 579.5L1021.3 550.5Q1021.2 548 1022.5 545.8L1023.4 544.2Q1024.7 542 1023.1 540.1L1021.3 537.9Q1019.7 536 1019.8 533.5L1020.1 521.4Q1020.2 518.9 1020.2 516.4L1020.3 504.3Q1020.3 501.8 1020.3 499.3L1020.3 487.2Q1020.2 484.8 1020.1 482.3L1019.6 470.2Q1019.5 467.7 1019.5 465.2L1019.4 453.1Q1019.4 450.6 1019.4 448.1L1019.7 436Q1019.7 433.5 1021.4 431.7L1023.5 429.3Q1025.2 427.5 1023.8 425.4L1022.6 423.6Q1021.2 421.5 1021.2 419Z"/></defs><use href="#d11" fill="none" stroke="#b9bbbc" stroke-width="20.5"/><use href="#d11" fill="#fff" stroke="#b9bbbc" stroke-width="5.6"/><use href="#d11" fill="none" stroke="#a6a8a9" stroke-width="3.2"/><use href="#d11" fill="none" stroke="#e4e5e5" stroke-width="1.2"/></g>
<g><defs><path id="d12" d="M700 202.6C700 188.7 712.8 180.1 731.9 180.1C751 180.1 763.8 188.7 763.8 202.6C763.8 216.5 751 225.1 731.9 225.1C712.8 225.1 700 216.5 700 202.6Z"/></defs><use href="#d12" fill="none" stroke="#b9bbbc" stroke-width="20.5"/><use href="#d12" fill="#fff" stroke="#b9bbbc" stroke-width="5.6"/><use href="#d12" fill="none" stroke="#a6a8a9" stroke-width="3.2"/><use href="#d12" fill="none" stroke="#e4e5e5" stroke-width="1.2"/></g>
<g transform="translate(960,200.6) rotate(-8)"><defs><path id="d13" d="M-32.5 0C-32.5 -14.3 -19.5 -23 0 -23C19.5 -23 32.5 -14.3 32.5 0C32.5 14.3 19.5 23 0 23C-19.5 23 -32.5 14.3 -32.5 0Z"/></defs><use href="#d13" fill="none" stroke="#b9bbbc" stroke-width="20.5"/><use href="#d13" fill="#fff" stroke="#b9bbbc" stroke-width="5.6"/><use href="#d13" fill="none" stroke="#a6a8a9" stroke-width="3.2"/><use href="#d13" fill="none" stroke="#e4e5e5" stroke-width="1.2"/></g>
<g><defs><path id="d14" d="M637.5 316.2C639.7 313.7 644.4 312.9 648 312.5C651.6 312.1 654.9 312 659 313.7C663.1 315.4 669.6 318.9 672.5 322.5C675.4 326.1 677 331.1 676.2 335C675.5 338.9 671.3 342.7 668 346C664.7 349.3 656.2 352.4 656.2 355C656.2 357.6 664.9 358.7 668 361.5C671.1 364.3 673.8 368.5 675 372C676.2 375.5 676 379.3 675 382.5C674 385.7 671.9 388.9 669 391C666.1 393.1 661.2 394.5 657.5 395C653.8 395.5 649.9 394.8 647 394C644.1 393.2 642.2 393.6 640 390C637.8 386.4 635.6 377.9 633.7 372.5C631.8 367.1 628.7 362.1 628.7 357.5C628.7 352.9 632.7 350 633.7 345C634.8 340 634.4 332.3 635 327.5C635.6 322.7 635.3 318.7 637.5 316.2Z"/></defs><use href="#d14" fill="none" stroke="#b9bbbc" stroke-width="20.5"/><use href="#d14" fill="#fff" stroke="#b9bbbc" stroke-width="5.6"/><use href="#d14" fill="none" stroke="#a6a8a9" stroke-width="3.2"/><use href="#d14" fill="none" stroke="#e4e5e5" stroke-width="1.2"/></g>
<g><defs><path id="d15" d="M758.4 494.5Q757.8 492 758.7 489.6L760.4 485.4Q761.5 482.5 764.2 481L764.2 481Q767 479.5 770.1 480L774.2 480.7Q776 481 777.5 479.9L777.5 479.9Q779 478.8 780.9 478.9L798.3 480.2Q800 480.3 801.5 479.4L801.5 479.4Q803 478.5 804.7 478.6L814.5 478.9Q818 479 821 480.7L822 481.3Q825 483 826.4 486.2L827.6 488.8Q829 492 828 495.4L828 495.6Q827 499 825.1 501.9L824.9 502.1Q823 505 819.9 506.6L818.1 507.4Q815 509 811.5 509.6L807.8 510.2Q806 510.5 804.5 509.5L804.5 509.5Q803 508.5 801.2 508.8L787.8 510.7Q786 511 784.5 509.9L784.5 509.9Q783 508.8 781.1 508.8L775.5 508.9Q772 509 769.2 506.9L766.8 505.1Q764 503 761.8 500.3L760.6 499Q759 497 758.4 494.5Z"/></defs><use href="#d15" fill="none" stroke="#b9bbbc" stroke-width="20.5"/><use href="#d15" fill="#fff" stroke="#b9bbbc" stroke-width="5.6"/><use href="#d15" fill="none" stroke="#a6a8a9" stroke-width="3.2"/><use href="#d15" fill="none" stroke="#e4e5e5" stroke-width="1.2"/></g>
<g><defs><path id="d16" d="M661.9 677.8Q662.5 672.5 666.2 668.8L666.2 668.8Q670 665 675.1 666.3L684.2 668.5Q690 670 696 669.6L700.7 669.2Q706.6 668.8 712.6 668.5L717.3 668.2Q723.3 667.9 729.3 667.8L738.2 667.5Q740 667.5 741.5 668.5L741.5 668.5Q743 669.5 744.4 668.3L744.5 668.2Q746 667 747.9 666.9L766.5 665.5Q772.5 665 775.2 659.6L777.3 655.4Q780 650 785.5 647.6L797 642.4Q802.5 640 808.5 640L815 640Q818.7 640 821.9 641.9L821.9 641.9Q825 643.7 828.6 643.5L833.2 643.2Q839.2 642.9 845.2 643L847.3 643Q853.3 643.1 859.3 642.8L863.8 642.6Q867.5 642.5 870.6 640.5L870.6 640.5Q873.7 638.5 877.4 638.5L884 638.5Q890 638.5 894.9 642L897.6 644Q902.5 647.5 904.9 653L905.1 653.2Q907.5 658.7 913.5 658L924 656.9Q930 656.2 935.9 657.5L941.6 658.7Q947.5 660 952.9 662.7L959.6 666Q965 668.7 971 668L979 666.9Q985 666.2 988.7 671L990 672.7Q993.7 677.5 994.4 683.5L995.5 694Q996.2 700 995.3 705.9L993 721.5Q992.5 725 990 727.5L990 727.5Q987.5 730 984 730.2L971 730.9Q965 731.2 959.5 733.5L955.5 735.2Q950 737.5 944.1 738.3L938.4 739.2Q932.5 740 926.5 739.5L922.5 739.1Q917.5 738.7 912.5 739.4L912.5 739.4Q907.5 740 905.7 744.7L905.6 745Q903.7 750 899 752.6L895.3 754.6Q890 757.5 884 757.9L873.1 758.5Q870 758.7 867.5 756.9L867.5 756.9Q865 755 861.9 754.6L851 753.3Q845.1 752.5 839.1 752.1L827.8 751.4Q825 751.2 822.5 752.5L822.5 752.5Q820 753.7 817.2 753.5L808.5 752.9Q802.5 752.5 797 750.1L785.1 744.8Q780 742.5 777.5 737.5L777.5 737.5Q775 732.5 769.4 732L746.9 730.2Q745 730 743.5 728.8L743.5 728.7Q742 727.5 740.5 728.6L740.5 728.6Q739 729.8 737.1 729.6L729.5 728.8Q723.5 728.1 717.5 727.9L714 727.7Q708 727.4 702 727L698.5 726.7Q692.5 726.2 686.9 728.3L678.1 731.6Q672.5 733.7 668.5 729.2L666.5 727Q662.5 722.5 661.8 716.5L661.6 715.3Q661 710 663 705L663 705Q665 700 662.8 695.1L662.8 695Q660.5 690 661.1 684.6Z"/></defs><use href="#d16" fill="none" stroke="#b9bbbc" stroke-width="20.5"/><use href="#d16" fill="#fff" stroke="#b9bbbc" stroke-width="5.6"/><use href="#d16" fill="none" stroke="#a6a8a9" stroke-width="3.2"/><use href="#d16" fill="none" stroke="#e4e5e5" stroke-width="1.2"/></g>
<g><defs><path id="d17" d="M814.4 682.4Q813.7 680 815.9 678.8L815.9 678.8Q818 677.5 820.1 678.8L832.4 686Q835 687.5 837.8 686.4L842.2 684.8Q845 683.7 847.9 684.6L849.1 685.1Q852 686 854.9 685.1L857.1 684.4Q860 683.5 862.8 684.7L863.2 684.8Q866 686 868.8 687.2L869.7 687.5Q872.5 688.7 875 687.1L887.5 679.1Q890 677.5 893 678L894.5 678.2Q897.5 678.7 898.1 681.6L899.4 687.1Q900 690 898.4 692.6L897.6 693.9Q896 696.5 897.5 699.1L898.5 701.1Q900 703.7 898.5 706.3L896.5 709.9Q895 712.5 892 712.5L891 712.5Q888 712.5 885.2 711.4L877.8 708.6Q875 707.5 872.5 709.1L870.5 710.4Q868 712 865.5 713.6L865 713.9Q862.5 715.5 859.7 714.6L857.8 713.9Q855 713 852.2 713.9L850.3 714.6Q847.5 715.5 845.4 713.3L842.1 709.7Q840 707.5 837.1 708.4L822.9 712.8Q820 713.7 817.3 712.4L815.2 711.3Q812.5 710 813.4 707.1L814.1 704.9Q815 702 813.4 699.5L812.8 698.7Q811.2 696.2 812.9 693.7L814.5 691.5Q816.2 689 815.4 686.1Z"/></defs><use href="#d17" fill="none" stroke="#b9bbbc" stroke-width="20.5"/><use href="#d17" fill="#fff" stroke="#b9bbbc" stroke-width="5.6"/><use href="#d17" fill="none" stroke="#a6a8a9" stroke-width="3.2"/><use href="#d17" fill="none" stroke="#e4e5e5" stroke-width="1.2"/></g>
<g><defs><path id="d18" d="M858.3 589.1Q857.5 586.2 860.3 585.1L860.9 584.8Q863.7 583.7 866.4 585L877.3 589.9Q880 591.2 882.9 590.4L889.1 588.8Q892 588 894.9 588.6L899.6 589.4Q902.5 590 905.5 589.6L912 588.9Q915 588.5 917.9 589.3L927.1 591.7Q930 592.5 930.8 595.4L931.7 598.3Q932.5 601.2 935.4 600.3L949.6 595.9Q952.5 595 955.5 595L955.7 595Q958.7 595 959.5 597.9L960.4 600.8Q961.2 603.7 960 606.4L958.7 609.3Q957.5 612 958.8 614.7L959.9 617.3Q961.2 620 959.5 622.4L956.5 626.7Q955 628.7 952.5 628.7L952.5 628.7Q950 628.7 947.8 627.4L937.6 621.5Q935 620 932.1 620.7L927.9 621.8Q925 622.5 922.1 621.9L915.4 620.6Q912.5 620 909.5 619.5L903 618.5Q900 618 897.2 617L887.6 613.5Q885 612.5 882.5 611.2L882.5 611.2Q880 610 877.5 611.2L865.2 617.4Q862.5 618.7 859.9 617.2L858.8 616.5Q856.2 615 857.2 612.2L857.7 610.8Q858.7 608 857 605.5L856.7 605Q855 602.5 856.7 600L858.3 597.5Q860 595 859.2 592.1Z"/></defs><use href="#d18" fill="none" stroke="#b9bbbc" stroke-width="20.5"/><use href="#d18" fill="#fff" stroke="#b9bbbc" stroke-width="5.6"/><use href="#d18" fill="none" stroke="#a6a8a9" stroke-width="3.2"/><use href="#d18" fill="none" stroke="#e4e5e5" stroke-width="1.2"/></g>
</g>
</svg>
</body></html>
